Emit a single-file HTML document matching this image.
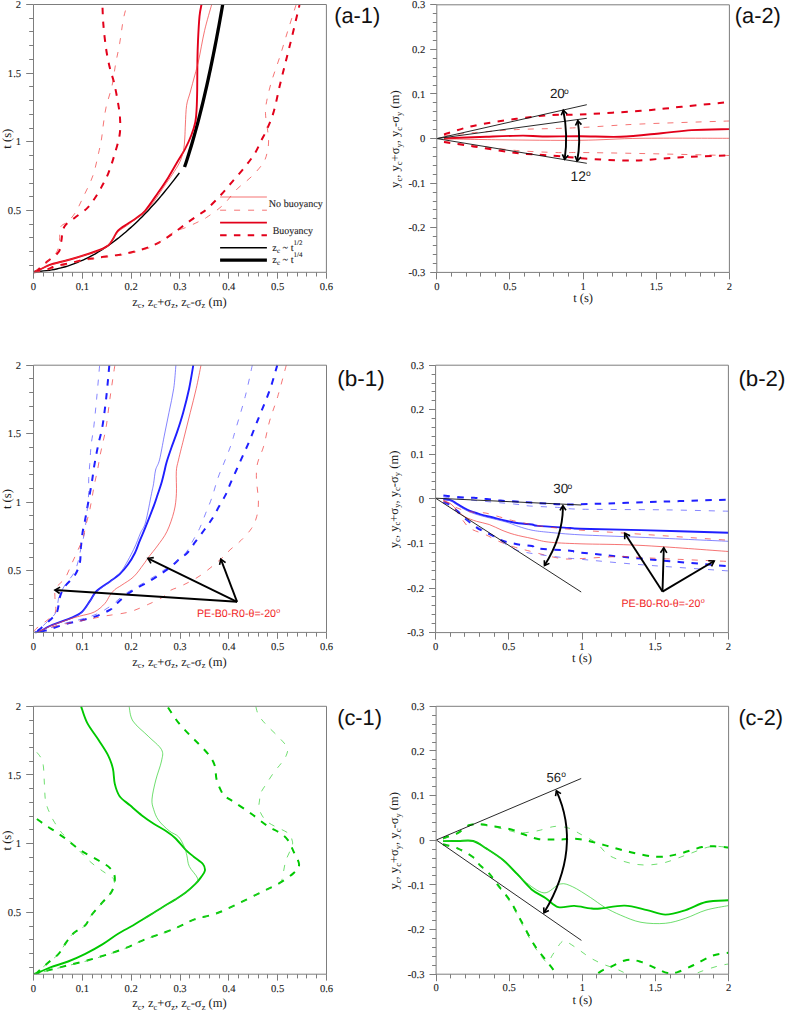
<!DOCTYPE html>
<html><head><meta charset="utf-8"><style>
html,body{margin:0;padding:0;background:#fff;}
svg{display:block;}
text{font-kerning:normal;text-rendering:geometricPrecision;}
.s{stroke:#1a1a1a;stroke-width:0.1px;}
</style></head><body>
<svg width="787" height="1012" viewBox="0 0 787 1012" fill="none" stroke-linecap="butt" stroke-linejoin="round">
<defs><clipPath id="clipc1"><rect x="33.5" y="706.3" width="293" height="267.9"/></clipPath><clipPath id="clipc2"><rect x="436.1" y="706.3" width="292.5" height="267.9"/></clipPath></defs>
<rect x="0" y="0" width="787" height="1012" fill="#fff"/>
<path d="M33.50,271.45 C34.77,271.41 38.91,271.32 41.13,271.19 C43.34,271.05 44.99,270.85 46.78,270.64 C48.57,270.42 50.23,270.17 51.87,269.89 C53.51,269.61 55.07,269.31 56.62,268.98 C58.16,268.65 59.66,268.29 61.14,267.91 C62.61,267.54 64.06,267.14 65.48,266.71 C66.90,266.29 68.30,265.85 69.67,265.39 C71.05,264.93 72.41,264.44 73.75,263.94 C75.10,263.44 76.42,262.92 77.73,262.39 C79.04,261.85 80.34,261.29 81.62,260.72 C82.90,260.15 84.17,259.56 85.43,258.95 C86.69,258.35 87.94,257.72 89.18,257.08 C90.41,256.45 91.64,255.79 92.86,255.12 C94.08,254.45 95.28,253.76 96.48,253.06 C97.68,252.36 98.87,251.65 100.06,250.92 C101.24,250.19 102.42,249.44 103.59,248.68 C104.75,247.92 105.91,247.15 107.07,246.36 C108.22,245.58 109.37,244.78 110.51,243.96 C111.65,243.15 112.79,242.32 113.91,241.48 C115.04,240.64 116.17,239.78 117.28,238.91 C118.40,238.04 119.51,237.16 120.62,236.27 C121.72,235.38 122.82,234.47 123.92,233.55 C125.02,232.63 126.11,231.70 127.19,230.76 C128.28,229.81 129.36,228.86 130.44,227.89 C131.52,226.92 132.59,225.94 133.66,224.95 C134.73,223.96 135.79,222.95 136.85,221.94 C137.91,220.92 138.97,219.89 140.02,218.86 C141.07,217.82 142.12,216.77 143.16,215.70 C144.21,214.64 145.25,213.57 146.28,212.48 C147.32,211.40 148.35,210.30 149.38,209.20 C150.42,208.09 151.44,206.97 152.46,205.84 C153.49,204.71 154.51,203.57 155.53,202.42 C156.54,201.27 157.56,200.11 158.57,198.94 C159.58,197.77 160.58,196.59 161.59,195.39 C162.59,194.20 163.60,193.00 164.59,191.78 C165.59,190.57 166.59,189.34 167.58,188.11 C168.58,186.87 169.57,185.63 170.55,184.37 C171.54,183.12 172.53,181.85 173.51,180.58 C174.49,179.30 175.47,178.02 176.45,176.72 C177.43,175.43 178.89,173.46 179.37,172.80" stroke="#000" stroke-width="1.4"/>
<path d="M184.53,167.10 C184.83,166.19 185.75,163.48 186.34,161.68 C186.93,159.87 187.51,158.06 188.08,156.26 C188.66,154.45 189.22,152.64 189.77,150.84 C190.33,149.03 190.87,147.22 191.41,145.42 C191.94,143.61 192.47,141.80 192.99,140.00 C193.52,138.19 194.03,136.38 194.53,134.58 C195.04,132.77 195.54,130.96 196.03,129.16 C196.52,127.35 197.01,125.54 197.49,123.74 C197.97,121.93 198.44,120.12 198.91,118.32 C199.37,116.51 199.84,114.70 200.29,112.90 C200.75,111.09 201.20,109.28 201.64,107.48 C202.09,105.67 202.52,103.86 202.96,102.06 C203.39,100.25 203.82,98.44 204.25,96.64 C204.67,94.83 205.09,93.02 205.51,91.22 C205.92,89.41 206.33,87.60 206.74,85.80 C207.15,83.99 207.55,82.18 207.95,80.38 C208.34,78.57 208.74,76.76 209.13,74.96 C209.52,73.15 209.90,71.35 210.29,69.54 C210.67,67.73 211.05,65.93 211.42,64.12 C211.80,62.31 212.17,60.51 212.54,58.70 C212.91,56.89 213.27,55.09 213.63,53.28 C213.99,51.47 214.35,49.67 214.71,47.86 C215.06,46.05 215.41,44.25 215.76,42.44 C216.11,40.63 216.46,38.83 216.80,37.02 C217.15,35.21 217.49,33.41 217.82,31.60 C218.16,29.79 218.49,27.99 218.83,26.18 C219.16,24.37 219.49,22.57 219.82,20.76 C220.14,18.95 220.47,17.15 220.79,15.34 C221.11,13.53 221.43,11.73 221.75,9.92 C222.06,8.11 222.53,5.40 222.69,4.50" stroke="#000" stroke-width="3.3"/>
<path d="M33.80,272.30 C35.17,271.67 39.13,269.82 42.00,268.50 C44.87,267.18 46.33,265.90 51.00,264.40 C55.67,262.90 62.38,261.73 70.00,259.50 C77.62,257.27 90.35,253.35 96.70,251.00 C103.05,248.65 105.38,247.40 108.10,245.40 C110.82,243.40 111.35,241.45 113.00,239.00 C114.65,236.55 115.55,233.23 118.00,230.70 C120.45,228.17 124.68,225.88 127.70,223.80 C130.72,221.72 133.20,220.37 136.10,218.20 C139.00,216.03 141.45,215.03 145.10,210.80 C148.75,206.57 154.13,198.37 158.00,192.80 C161.87,187.23 165.08,182.53 168.30,177.40 C171.52,172.27 174.52,166.72 177.30,162.00 C180.08,157.28 182.65,153.60 185.00,149.10 C187.35,144.60 189.68,139.50 191.40,135.00 C193.12,130.50 194.43,126.38 195.30,122.10 C196.17,117.82 196.28,114.65 196.60,109.30 C196.92,103.95 197.07,98.05 197.20,90.00 C197.33,81.95 197.27,69.22 197.40,61.00 C197.53,52.78 197.65,48.15 198.00,40.70 C198.35,33.25 198.92,22.33 199.50,16.30 C200.08,10.27 201.17,6.47 201.50,4.50" stroke="#e2001a" stroke-width="1.9"/>
<path d="M33.80,272.30 C36.67,271.08 40.52,268.47 51.00,265.00 C61.48,261.53 87.18,254.77 96.70,251.50 C106.22,248.23 104.55,248.65 108.10,245.40 C111.65,242.15 114.73,235.40 118.00,232.00 C121.27,228.60 123.18,228.42 127.70,225.00 C132.22,221.58 140.67,215.50 145.10,211.50 C149.53,207.50 150.98,205.42 154.30,201.00 C157.62,196.58 162.03,189.37 165.00,185.00 C167.97,180.63 169.63,178.63 172.10,174.80 C174.57,170.97 177.88,166.13 179.80,162.00 C181.72,157.87 182.77,154.00 183.60,150.00 C184.43,146.00 184.50,142.33 184.80,138.00 C185.10,133.67 185.10,129.43 185.40,124.00 C185.70,118.57 185.83,110.57 186.60,105.40 C187.37,100.23 188.85,97.23 190.00,93.00 C191.15,88.77 192.08,85.33 193.50,80.00 C194.92,74.67 196.65,69.25 198.50,61.00 C200.35,52.75 202.40,39.92 204.60,30.50 C206.80,21.08 210.52,8.83 211.70,4.50" stroke="#f03838" stroke-width="0.7"/>
<path d="M35.00,271.80 C35.43,271.50 35.57,271.72 37.60,270.00 C39.63,268.28 43.70,264.50 47.20,261.50 C50.70,258.50 56.23,255.50 58.60,252.00 C60.97,248.50 60.77,243.68 61.40,240.50 C62.03,237.32 61.75,235.43 62.40,232.90 C63.05,230.37 63.23,227.83 65.30,225.30 C67.37,222.77 71.15,220.57 74.80,217.70 C78.45,214.83 83.70,211.60 87.20,208.10 C90.70,204.60 93.27,200.50 95.80,196.70 C98.33,192.90 100.35,189.12 102.40,185.30 C104.45,181.48 106.18,178.57 108.10,173.80 C110.02,169.03 111.98,163.17 113.90,156.70 C115.82,150.23 118.58,141.45 119.60,135.00 C120.62,128.55 120.32,123.67 120.00,118.00 C119.68,112.33 118.72,107.00 117.70,101.00 C116.68,95.00 115.18,87.40 113.90,82.00 C112.62,76.60 111.28,74.02 110.00,68.60 C108.72,63.18 107.30,56.80 106.20,49.50 C105.10,42.20 104.03,32.30 103.40,24.80 C102.77,17.30 102.57,7.88 102.40,4.50" stroke="#e2001a" stroke-width="2.0" stroke-dasharray="6.5 7.3"/>
<path d="M34.50,272.00 C34.70,271.83 33.58,272.75 35.70,271.00 C37.82,269.25 43.70,264.67 47.20,261.50 C50.70,258.33 54.65,255.50 56.70,252.00 C58.75,248.50 58.87,244.63 59.50,240.50 C60.13,236.37 59.07,230.37 60.50,227.20 C61.93,224.03 65.57,224.03 68.10,221.50 C70.63,218.97 73.15,216.13 75.70,212.00 C78.25,207.87 80.53,202.75 83.40,196.70 C86.27,190.65 90.37,183.00 92.90,175.70 C95.43,168.40 97.17,159.02 98.60,152.90 C100.03,146.78 100.70,143.82 101.50,139.00 C102.30,134.18 102.62,129.38 103.40,124.00 C104.18,118.62 104.77,113.07 106.20,106.70 C107.63,100.33 110.40,93.10 112.00,85.80 C113.60,78.50 114.53,69.90 115.80,62.90 C117.07,55.90 118.33,51.12 119.60,43.80 C120.87,36.48 122.13,25.55 123.40,19.00 C124.67,12.45 126.57,6.92 127.20,4.50" stroke="#f03838" stroke-width="0.7" stroke-dasharray="6 8"/>
<path d="M34.00,272.20 C34.60,272.13 35.30,272.28 37.60,271.80 C39.90,271.32 44.83,270.25 47.80,269.30 C50.77,268.35 51.58,267.17 55.40,266.10 C59.22,265.03 66.03,263.97 70.70,262.90 C75.37,261.83 79.38,260.52 83.40,259.70 C87.42,258.88 90.20,258.63 94.80,258.00 C99.40,257.37 105.98,256.60 111.00,255.90 C116.02,255.20 120.25,254.73 124.90,253.80 C129.55,252.87 134.47,251.58 138.90,250.30 C143.33,249.02 147.77,247.62 151.50,246.10 C155.23,244.58 157.57,243.42 161.30,241.20 C165.03,238.98 169.48,235.93 173.90,232.80 C178.32,229.67 183.45,225.53 187.80,222.40 C192.15,219.27 196.87,216.18 200.00,214.00 C203.13,211.82 203.13,212.47 206.60,209.30 C210.07,206.13 216.40,199.75 220.80,195.00 C225.20,190.25 228.93,185.53 233.00,180.80 C237.07,176.07 241.47,171.33 245.20,166.60 C248.93,161.87 252.68,156.83 255.40,152.40 C258.12,147.97 259.63,143.72 261.50,140.00 C263.37,136.28 264.57,134.80 266.60,130.10 C268.63,125.40 271.50,119.25 273.70,111.80 C275.90,104.35 277.77,93.87 279.80,85.40 C281.83,76.93 283.87,69.13 285.90,61.00 C287.93,52.87 289.73,45.93 292.00,36.60 C294.27,27.27 298.25,10.27 299.50,5.00" stroke="#e2001a" stroke-width="2.0" stroke-dasharray="6.5 7.3"/>
<path d="M34.00,272.60 C36.30,272.13 41.68,271.32 47.80,269.80 C53.92,268.28 62.87,265.35 70.70,263.50 C78.53,261.65 85.77,260.22 94.80,258.70 C103.83,257.18 115.45,256.35 124.90,254.40 C134.35,252.45 144.82,249.73 151.50,247.00 C158.18,244.27 160.92,240.67 165.00,238.00 C169.08,235.33 172.43,232.78 176.00,231.00 C179.57,229.22 182.40,228.97 186.40,227.30 C190.40,225.63 196.63,222.65 200.00,221.00 C203.37,219.35 202.78,220.03 206.60,217.40 C210.42,214.77 217.82,209.93 222.90,205.20 C227.98,200.47 232.37,193.73 237.10,189.00 C241.83,184.27 246.90,181.22 251.30,176.80 C255.70,172.38 260.78,166.92 263.50,162.50 C266.22,158.08 266.75,154.05 267.60,150.30 C268.45,146.55 268.60,143.37 268.60,140.00 C268.60,136.63 268.12,134.47 267.60,130.10 C267.08,125.73 265.67,118.55 265.50,113.80 C265.33,109.05 265.58,107.02 266.60,101.60 C267.62,96.18 269.40,88.75 271.60,81.30 C273.80,73.85 277.08,65.37 279.80,56.90 C282.52,48.43 285.20,39.13 287.90,30.50 C290.60,21.87 294.65,9.33 296.00,5.10" stroke="#f03838" stroke-width="0.7" stroke-dasharray="6 8"/>
<path d="M220.10,197.00 L266.90,197.00" stroke="#f03838" stroke-width="0.7"/>
<path d="M220.10,210.20 L266.90,210.20" stroke="#f03838" stroke-width="0.7" stroke-dasharray="6 8"/>
<path d="M220.10,222.60 L266.90,222.60" stroke="#e2001a" stroke-width="1.9"/>
<path d="M220.10,235.30 L266.90,235.30" stroke="#e2001a" stroke-width="2.0" stroke-dasharray="6.5 7.3"/>
<path d="M220.10,247.70 L266.90,247.70" stroke="#000" stroke-width="1.4"/>
<path d="M220.10,260.10 L266.90,260.10" stroke="#000" stroke-width="3.3"/>
<text class="s" x="268.80" y="207.30" font-family="Liberation Serif" font-size="10.3" text-anchor="start" fill="#1a1a1a" textLength="54" lengthAdjust="spacingAndGlyphs">No buoyancy</text>
<text class="s" x="272.70" y="233.60" font-family="Liberation Serif" font-size="10.3" text-anchor="start" fill="#1a1a1a" textLength="40.2" lengthAdjust="spacingAndGlyphs">Buoyancy</text>
<text class="s" x="272.30" y="251.00" font-family="Liberation Serif" font-size="10.3" text-anchor="start" fill="#1a1a1a" >z<tspan font-size="7" dy="2">c</tspan><tspan dy="-2"> ~ t</tspan><tspan font-size="7" dy="-6.5">1/2</tspan></text>
<text class="s" x="272.30" y="263.00" font-family="Liberation Serif" font-size="10.3" text-anchor="start" fill="#1a1a1a" >z<tspan font-size="7" dy="2">c</tspan><tspan dy="-2"> ~ t</tspan><tspan font-size="7" dy="-6.5">1/4</tspan></text>
<path d="M444.00,134.50 C448.87,133.07 461.13,128.52 473.20,125.90 C485.27,123.28 503.43,120.60 516.40,118.80 C529.37,117.00 540.40,115.82 551.00,115.10 C561.60,114.38 565.00,115.22 580.00,114.50 C595.00,113.78 624.07,112.08 641.00,110.80 C657.93,109.52 666.93,108.27 681.60,106.80 C696.27,105.33 721.10,102.80 729.00,102.00" stroke="#e2001a" stroke-width="2.0" stroke-dasharray="6.5 7.3"/>
<path d="M444.00,135.80 C448.33,135.33 457.93,134.03 470.00,133.00 C482.07,131.97 501.65,130.37 516.40,129.60 C531.15,128.83 547.00,128.78 558.50,128.40 C570.00,128.02 571.65,128.03 585.40,127.30 C599.15,126.57 617.07,125.05 641.00,124.00 C664.93,122.95 714.33,121.50 729.00,121.00" stroke="#f03838" stroke-width="0.7" stroke-dasharray="6 8"/>
<path d="M444.00,138.50 C446.67,138.38 452.97,138.10 460.00,137.80 C467.03,137.50 475.72,137.07 486.20,136.70 C496.68,136.33 513.55,135.63 522.90,135.60 C532.25,135.57 532.78,136.40 542.30,136.50 C551.82,136.60 566.93,136.15 580.00,136.20 C593.07,136.25 607.15,137.30 620.70,136.80 C634.25,136.30 649.45,134.32 661.30,133.20 C673.15,132.08 680.45,130.78 691.80,130.10 C703.15,129.42 723.13,129.27 729.40,129.10" stroke="#e2001a" stroke-width="1.9"/>
<path d="M444.00,138.80 C453.33,138.97 477.33,139.55 500.00,139.80 C522.67,140.05 556.50,140.55 580.00,140.30 C603.50,140.05 616.10,138.63 641.00,138.30 C665.90,137.97 714.67,138.30 729.40,138.30" stroke="#f03838" stroke-width="0.7"/>
<path d="M444.00,141.50 C448.33,142.08 457.93,143.50 470.00,145.00 C482.07,146.50 501.65,149.23 516.40,150.50 C531.15,151.77 547.90,152.27 558.50,152.60 C569.10,152.93 566.25,152.35 580.00,152.50 C593.75,152.65 616.17,153.00 641.00,153.50 C665.83,154.00 714.33,155.17 729.00,155.50" stroke="#f03838" stroke-width="0.7" stroke-dasharray="6 8"/>
<path d="M444.00,142.00 C448.87,142.73 461.13,144.58 473.20,146.40 C485.27,148.22 502.43,151.30 516.40,152.90 C530.37,154.50 545.60,155.07 557.00,156.00 C568.40,156.93 572.50,157.73 584.80,158.50 C597.10,159.27 614.67,160.82 630.80,160.60 C646.93,160.38 665.23,158.08 681.60,157.20 C697.97,156.32 721.10,155.62 729.00,155.30" stroke="#e2001a" stroke-width="2.0" stroke-dasharray="6.5 7.3"/>
<path d="M436.80,138.60 L586.80,104.70" stroke="#111" stroke-width="0.9"/>
<path d="M436.80,138.60 L586.80,118.30" stroke="#111" stroke-width="0.9"/>
<path d="M436.80,138.60 L586.80,163.30" stroke="#111" stroke-width="0.9"/>
<path d="M563.30,110.20 Q568.20,134.50 564.70,159.20" stroke="#000" stroke-width="1.9"/>
<path d="M567.13,114.02 L563.30,110.20 L561.25,115.20" stroke="#000" stroke-width="1.615" stroke-linejoin="miter"/>
<path d="M562.36,154.32 L564.70,159.20 L568.30,155.17" stroke="#000" stroke-width="1.615" stroke-linejoin="miter"/>
<path d="M577.80,120.60 Q580.95,142.20 577.10,161.00" stroke="#000" stroke-width="1.9"/>
<path d="M581.42,124.62 L577.80,120.60 L575.48,125.49" stroke="#000" stroke-width="1.615" stroke-linejoin="miter"/>
<path d="M575.06,155.99 L577.10,161.00 L580.94,157.19" stroke="#000" stroke-width="1.615" stroke-linejoin="miter"/>
<text x="549.90" y="98.40" font-family="Liberation Sans" font-size="13.4" text-anchor="start" fill="#1a1a1a" >20</text>
<text x="564.00" y="94.10" font-family="Liberation Sans" font-size="8.5" text-anchor="start" fill="#1a1a1a" >o</text>
<text x="570.60" y="180.80" font-family="Liberation Sans" font-size="13.9" text-anchor="start" fill="#1a1a1a" >12</text>
<text x="585.90" y="175.90" font-family="Liberation Sans" font-size="8.5" text-anchor="start" fill="#1a1a1a" >o</text>
<path d="M193.30,365.20 C192.60,369.12 190.78,380.83 189.10,388.70 C187.42,396.57 185.17,405.28 183.20,412.40 C181.23,419.52 179.28,425.47 177.30,431.40 C175.32,437.33 173.08,442.87 171.30,448.00 C169.52,453.13 167.73,458.37 166.60,462.20 C165.47,466.03 165.38,467.43 164.50,471.00 C163.62,474.57 162.47,479.60 161.30,483.60 C160.13,487.60 158.73,491.33 157.50,495.00 C156.27,498.67 155.88,500.28 153.90,505.60 C151.92,510.92 147.98,520.98 145.60,526.90 C143.22,532.82 141.38,536.75 139.60,541.10 C137.82,545.45 136.87,549.05 134.90,553.00 C132.93,556.95 130.37,561.25 127.80,564.80 C125.23,568.35 122.47,571.53 119.50,574.30 C116.53,577.07 113.85,578.58 110.00,581.40 C106.15,584.22 99.70,588.00 96.40,591.20 C93.10,594.40 92.62,597.13 90.20,600.60 C87.78,604.07 85.18,609.07 81.90,612.00 C78.62,614.93 75.68,615.95 70.50,618.20 C65.32,620.45 55.82,623.33 50.80,625.50 C45.78,627.67 43.03,630.05 40.40,631.20 C37.77,632.35 35.90,632.20 35.00,632.40" stroke="#1f1fff" stroke-width="1.9"/>
<path d="M175.90,365.20 C175.53,369.12 174.85,380.83 173.70,388.70 C172.55,396.57 170.58,404.50 169.00,412.40 C167.42,420.30 165.78,428.18 164.20,436.10 C162.62,444.02 160.93,454.25 159.50,459.90 C158.07,465.55 156.58,466.05 155.60,470.00 C154.62,473.95 154.28,479.65 153.60,483.60 C152.92,487.55 152.83,487.28 151.50,493.70 C150.17,500.12 147.43,515.55 145.60,522.10 C143.77,528.65 142.48,528.45 140.50,533.00 C138.52,537.55 136.80,543.12 133.70,549.40 C130.60,555.68 125.02,566.10 121.90,570.70 C118.78,575.30 117.00,575.12 115.00,577.00 C113.00,578.88 113.00,579.53 109.90,582.00 C106.80,584.47 99.68,588.63 96.40,591.80 C93.12,594.97 92.62,597.57 90.20,601.00 C87.78,604.43 85.18,609.47 81.90,612.40 C78.62,615.33 75.68,616.35 70.50,618.60 C65.32,620.85 55.82,623.77 50.80,625.90 C45.78,628.03 43.03,630.32 40.40,631.40 C37.77,632.48 35.90,632.23 35.00,632.40" stroke="#5050ff" stroke-width="0.7"/>
<path d="M201.00,365.20 C200.20,369.12 197.98,380.83 196.20,388.70 C194.42,396.57 192.27,404.50 190.30,412.40 C188.33,420.30 186.37,428.18 184.40,436.10 C182.43,444.02 179.85,453.97 178.50,459.90 C177.15,465.83 176.65,466.07 176.30,471.70 C175.95,477.33 176.78,487.07 176.40,493.70 C176.02,500.33 175.58,505.18 174.00,511.50 C172.42,517.82 169.67,525.87 166.90,531.60 C164.13,537.33 160.37,541.75 157.40,545.90 C154.43,550.05 151.47,553.35 149.10,556.50 C146.73,559.65 145.77,561.43 143.20,564.80 C140.63,568.17 137.25,573.33 133.70,576.70 C130.15,580.07 125.07,582.83 121.90,585.00 C118.73,587.17 116.70,587.97 114.70,589.70 C112.70,591.43 111.57,593.07 109.90,595.40 C108.23,597.73 107.30,600.93 104.70,603.70 C102.10,606.47 98.45,609.93 94.30,612.00 C90.15,614.07 83.95,614.90 79.80,616.10 C75.65,617.30 74.23,617.55 69.40,619.20 C64.57,620.85 55.98,623.83 50.80,626.00 C45.62,628.17 40.38,631.17 38.30,632.20" stroke="#f03838" stroke-width="0.7"/>
<path d="M277.30,365.10 C276.02,369.33 272.92,381.18 269.60,390.50 C266.28,399.82 260.80,412.50 257.40,421.00 C254.00,429.50 251.72,435.53 249.20,441.50 C246.68,447.47 244.47,451.97 242.30,456.80 C240.13,461.63 238.23,465.93 236.20,470.50 C234.17,475.07 231.87,480.13 230.10,484.20 C228.33,488.27 227.50,491.08 225.60,494.90 C223.70,498.72 221.00,503.03 218.70,507.10 C216.40,511.17 214.22,515.48 211.80,519.30 C209.38,523.12 206.98,526.18 204.20,530.00 C201.42,533.82 197.90,538.40 195.10,542.20 C192.30,546.00 189.92,550.07 187.40,552.80 C184.88,555.53 183.05,556.05 180.00,558.60 C176.95,561.15 173.77,564.60 169.10,568.10 C164.43,571.60 158.67,575.47 152.00,579.60 C145.33,583.73 135.45,588.45 129.10,592.90 C122.75,597.35 117.10,603.47 113.90,606.30 C110.70,609.13 112.82,608.27 109.90,609.90 C106.98,611.53 101.07,614.37 96.40,616.10 C91.73,617.83 86.92,619.00 81.90,620.30 C76.88,621.60 70.80,622.70 66.30,623.90 C61.80,625.10 58.35,626.38 54.90,627.50 C51.45,628.62 48.75,629.80 45.60,630.60 C42.45,631.40 37.60,632.02 36.00,632.30" stroke="#1f1fff" stroke-width="2.0" stroke-dasharray="6.5 7.3"/>
<path d="M252.30,365.10 C251.12,370.35 248.07,385.58 245.20,396.60 C242.33,407.62 237.48,423.08 235.10,431.20 C232.72,439.32 232.75,440.02 230.90,445.30 C229.05,450.58 226.17,457.43 224.00,462.90 C221.83,468.37 219.93,472.27 217.90,478.10 C215.87,483.93 213.83,492.05 211.80,497.90 C209.77,503.75 207.73,508.12 205.70,513.20 C203.67,518.28 201.88,523.57 199.60,528.40 C197.32,533.23 194.28,538.13 192.00,542.20 C189.72,546.27 188.18,549.83 185.90,552.80 C183.62,555.77 181.12,557.72 178.30,560.00 C175.48,562.28 172.88,563.83 169.00,566.50 C165.12,569.17 159.83,572.92 155.00,576.00 C150.17,579.08 145.00,582.00 140.00,585.00 C135.00,588.00 129.67,590.67 125.00,594.00 C120.33,597.33 116.50,601.75 112.00,605.00 C107.50,608.25 103.00,611.17 98.00,613.50 C93.00,615.83 87.33,617.42 82.00,619.00 C76.67,620.58 71.33,621.50 66.00,623.00 C60.67,624.50 55.00,626.50 50.00,628.00 C45.00,629.50 38.33,631.33 36.00,632.00" stroke="#5050ff" stroke-width="0.7" stroke-dasharray="6 8"/>
<path d="M286.30,365.10 C284.87,370.35 280.48,387.28 277.70,396.60 C274.92,405.92 271.93,412.75 269.60,421.00 C267.27,429.25 265.70,439.12 263.70,446.10 C261.70,453.08 258.82,457.57 257.60,462.90 C256.38,468.23 256.27,471.75 256.40,478.10 C256.53,484.45 258.33,494.65 258.40,501.00 C258.47,507.35 257.95,511.63 256.80,516.20 C255.65,520.77 254.17,524.33 251.50,528.40 C248.83,532.47 244.37,537.03 240.80,540.60 C237.23,544.17 233.40,546.75 230.10,549.80 C226.80,552.85 225.93,554.63 221.00,558.90 C216.07,563.17 206.97,570.97 200.50,575.40 C194.03,579.83 187.28,582.97 182.20,585.50 C177.12,588.03 173.13,588.73 170.00,590.60 C166.87,592.47 167.03,594.40 163.40,596.70 C159.77,599.00 153.92,601.85 148.20,604.40 C142.48,606.95 136.10,610.10 129.10,612.00 C122.10,613.90 113.18,614.53 106.20,615.80 C99.22,617.07 95.13,618.02 87.20,619.60 C79.27,621.18 65.63,623.73 58.60,625.30 C51.57,626.87 48.77,627.88 45.00,629.00 C41.23,630.12 37.50,631.50 36.00,632.00" stroke="#f03838" stroke-width="0.7" stroke-dasharray="6 8"/>
<path d="M109.30,365.50 C108.78,370.93 107.35,387.90 106.20,398.10 C105.05,408.30 103.58,419.55 102.40,426.70 C101.22,433.85 100.07,436.63 99.10,441.00 C98.13,445.37 97.43,448.62 96.60,452.90 C95.77,457.18 94.85,462.10 94.10,466.70 C93.35,471.30 92.83,475.88 92.10,480.50 C91.37,485.12 90.52,489.78 89.70,494.40 C88.88,499.02 88.03,503.58 87.20,508.20 C86.37,512.82 85.48,517.97 84.70,522.10 C83.92,526.23 83.15,528.57 82.50,533.00 C81.85,537.43 81.25,543.67 80.80,548.70 C80.35,553.73 80.83,558.70 79.80,563.20 C78.77,567.70 77.02,571.90 74.60,575.70 C72.18,579.50 67.72,582.55 65.30,586.00 C62.88,589.45 61.48,592.07 60.10,596.40 C58.72,600.73 58.73,608.02 57.00,612.00 C55.27,615.98 52.65,617.37 49.70,620.30 C46.75,623.23 41.72,627.62 39.30,629.60 C36.88,631.58 35.88,631.77 35.20,632.20" stroke="#1f1fff" stroke-width="2.0" stroke-dasharray="6.5 7.3"/>
<path d="M99.60,365.70 C99.12,371.10 97.67,387.93 96.70,398.10 C95.73,408.27 94.67,419.38 93.80,426.70 C92.93,434.02 92.02,438.13 91.50,442.00 C90.98,445.87 91.00,446.12 90.70,449.90 C90.40,453.68 90.03,459.92 89.70,464.70 C89.37,469.48 88.87,473.98 88.70,478.60 C88.53,483.22 88.87,487.95 88.70,492.40 C88.53,496.85 88.12,500.85 87.70,505.30 C87.28,509.75 86.73,514.48 86.20,519.10 C85.67,523.72 85.37,528.18 84.50,533.00 C83.63,537.82 82.08,543.17 81.00,548.00 C79.92,552.83 79.23,557.73 78.00,562.00 C76.77,566.27 75.77,569.77 73.60,573.60 C71.43,577.43 67.43,581.10 65.00,585.00 C62.57,588.90 60.50,592.50 59.00,597.00 C57.50,601.50 57.75,608.08 56.00,612.00 C54.25,615.92 51.42,617.50 48.50,620.50 C45.58,623.50 40.75,628.05 38.50,630.00 C36.25,631.95 35.58,631.83 35.00,632.20" stroke="#5050ff" stroke-width="0.7" stroke-dasharray="6 8"/>
<path d="M114.80,365.50 C114.00,370.93 111.43,387.90 110.00,398.10 C108.57,408.30 107.37,419.38 106.20,426.70 C105.03,434.02 104.03,437.15 103.00,442.00 C101.97,446.85 100.90,451.18 100.00,455.80 C99.10,460.42 98.50,465.08 97.60,469.70 C96.70,474.32 95.52,478.90 94.60,483.50 C93.68,488.10 92.92,492.85 92.10,497.30 C91.28,501.75 90.68,505.75 89.70,510.20 C88.72,514.65 87.37,519.22 86.20,524.00 C85.03,528.78 84.28,534.10 82.70,538.90 C81.12,543.70 78.57,548.58 76.70,552.80 C74.83,557.02 73.40,560.05 71.50,564.20 C69.60,568.35 67.90,573.72 65.30,577.70 C62.70,581.68 57.63,584.98 55.90,588.10 C54.17,591.22 54.98,593.98 54.90,596.40 C54.82,598.82 55.40,599.83 55.40,602.60 C55.40,605.37 56.72,609.72 54.90,613.00 C53.08,616.28 47.62,619.70 44.50,622.30 C41.38,624.90 37.95,626.98 36.20,628.60 C34.45,630.22 34.37,631.43 34.00,632.00" stroke="#f03838" stroke-width="0.7" stroke-dasharray="6 8"/>
<path d="M237.10,601.80 L147.90,558.30" stroke="#000" stroke-width="1.9"/>
<path d="M153.80,557.62 L147.90,558.30 L150.99,563.37" stroke="#000" stroke-width="1.615" stroke-linejoin="miter"/>
<path d="M237.10,601.80 L220.80,559.10" stroke="#000" stroke-width="1.9"/>
<path d="M225.57,562.63 L220.80,559.10 L219.59,564.91" stroke="#000" stroke-width="1.615" stroke-linejoin="miter"/>
<path d="M237.10,601.80 L54.90,590.00" stroke="#000" stroke-width="1.9"/>
<path d="M60.10,587.13 L54.90,590.00 L59.68,593.52" stroke="#000" stroke-width="1.615" stroke-linejoin="miter"/>
<text x="197.00" y="617.20" font-family="Liberation Sans" font-size="10.8" text-anchor="start" fill="#f01e1e" textLength="79" lengthAdjust="spacingAndGlyphs">PE-B0-R0-θ=-20</text>
<text x="276.30" y="613.00" font-family="Liberation Sans" font-size="7.2" text-anchor="start" fill="#f01e1e" >o</text>
<path d="M443.40,495.50 C446.17,495.78 454.90,496.82 460.00,497.20 C465.10,497.58 469.57,497.48 474.00,497.80 C478.43,498.12 482.17,498.63 486.60,499.10 C491.03,499.57 495.72,500.18 500.60,500.60 C505.48,501.02 510.82,501.27 515.90,501.60 C520.98,501.93 523.82,502.15 531.10,502.60 C538.38,503.05 551.45,504.02 559.60,504.30 C567.75,504.58 563.05,504.73 580.00,504.30 C596.95,503.87 636.63,502.48 661.30,501.70 C685.97,500.92 716.88,499.95 728.00,499.60" stroke="#1f1fff" stroke-width="2.0" stroke-dasharray="6.5 7.3"/>
<path d="M443.40,497.00 C447.83,497.50 458.13,498.82 470.00,500.00 C481.87,501.18 504.63,503.10 514.60,504.10 C524.57,505.10 522.30,505.43 529.80,506.00 C537.30,506.57 551.23,506.97 559.60,507.50 C567.97,508.03 563.05,508.82 580.00,509.20 C596.95,509.58 636.63,509.47 661.30,509.80 C685.97,510.13 716.88,510.97 728.00,511.20" stroke="#5050ff" stroke-width="0.7" stroke-dasharray="6 8"/>
<path d="M443.40,499.10 C444.68,499.30 448.77,499.47 451.10,500.30 C453.43,501.13 454.65,502.50 457.40,504.10 C460.15,505.70 463.78,508.20 467.60,509.90 C471.42,511.60 476.07,513.03 480.30,514.30 C484.53,515.57 488.77,516.43 493.00,517.50 C497.23,518.57 501.47,519.75 505.70,520.70 C509.93,521.65 514.02,522.57 518.40,523.20 C522.78,523.83 528.73,524.05 532.00,524.50 C535.27,524.95 531.60,525.32 538.00,525.90 C544.40,526.48 563.40,527.53 570.40,528.00 C577.40,528.47 568.23,528.35 580.00,528.70 C591.77,529.05 616.27,529.42 641.00,530.10 C665.73,530.78 713.83,532.35 728.40,532.80" stroke="#1f1fff" stroke-width="1.9"/>
<path d="M443.40,499.50 C444.68,499.75 448.77,500.08 451.10,501.00 C453.43,501.92 454.65,503.33 457.40,505.00 C460.15,506.67 463.78,509.25 467.60,511.00 C471.42,512.75 473.95,513.68 480.30,515.50 C486.65,517.32 499.35,520.08 505.70,521.90 C512.05,523.72 514.02,525.02 518.40,526.40 C522.78,527.78 526.93,529.22 532.00,530.20 C537.07,531.18 540.80,531.53 548.80,532.30 C556.80,533.07 564.63,533.97 580.00,534.80 C595.37,535.63 616.27,536.22 641.00,537.30 C665.73,538.38 713.83,540.63 728.40,541.30" stroke="#5050ff" stroke-width="0.7"/>
<path d="M443.40,500.30 C444.68,500.93 448.77,502.40 451.10,504.10 C453.43,505.80 455.08,508.38 457.40,510.50 C459.72,512.62 461.82,515.00 465.00,516.80 C468.18,518.60 472.47,520.02 476.50,521.30 C480.53,522.58 484.97,523.02 489.20,524.50 C493.43,525.98 497.67,528.52 501.90,530.20 C506.13,531.88 509.58,533.22 514.60,534.60 C519.62,535.98 526.30,537.25 532.00,538.50 C537.70,539.75 540.80,541.22 548.80,542.10 C556.80,542.98 564.63,543.25 580.00,543.80 C595.37,544.35 616.27,544.12 641.00,545.40 C665.73,546.68 713.83,550.48 728.40,551.50" stroke="#f03838" stroke-width="0.7"/>
<path d="M443.40,500.30 C445.73,501.58 452.95,506.08 457.40,508.00 C461.85,509.92 465.43,510.97 470.10,511.80 C474.77,512.63 480.53,512.17 485.40,513.00 C490.27,513.83 494.65,515.52 499.30,516.80 C503.95,518.08 506.52,519.17 513.30,520.70 C520.08,522.23 528.88,524.43 540.00,526.00 C551.12,527.57 563.17,528.73 580.00,530.10 C596.83,531.47 616.33,532.52 641.00,534.20 C665.67,535.88 713.50,539.20 728.00,540.20" stroke="#f03838" stroke-width="0.7" stroke-dasharray="6 8"/>
<path d="M443.40,502.20 C444.25,502.52 446.17,502.62 448.50,504.10 C450.83,505.58 454.43,508.55 457.40,511.10 C460.37,513.65 462.92,516.53 466.30,519.40 C469.68,522.27 473.67,525.77 477.70,528.30 C481.73,530.83 486.25,532.48 490.50,534.60 C494.75,536.72 498.77,539.40 503.20,541.00 C507.63,542.60 512.30,543.35 517.10,544.20 C521.90,545.05 528.52,545.37 532.00,546.10 C535.48,546.83 531.60,547.83 538.00,548.60 C544.40,549.37 563.40,550.05 570.40,550.70 C577.40,551.35 568.23,551.18 580.00,552.50 C591.77,553.82 616.33,556.32 641.00,558.60 C665.67,560.88 713.50,564.93 728.00,566.20" stroke="#1f1fff" stroke-width="2.0" stroke-dasharray="6.5 7.3"/>
<path d="M443.40,501.50 C444.88,502.15 449.33,502.63 452.30,505.40 C455.27,508.17 458.23,514.28 461.20,518.10 C464.17,521.92 466.07,525.55 470.10,528.30 C474.13,531.05 480.73,532.48 485.40,534.60 C490.07,536.72 493.45,538.98 498.10,541.00 C502.75,543.02 508.43,545.12 513.30,546.70 C518.17,548.28 519.58,548.57 527.30,550.50 C535.02,552.43 550.82,556.95 559.60,558.30 C568.38,559.65 569.82,558.88 580.00,558.60 C590.18,558.32 607.15,556.60 620.70,556.60 C634.25,556.60 643.42,557.80 661.30,558.60 C679.18,559.40 716.88,560.93 728.00,561.40" stroke="#f03838" stroke-width="0.7" stroke-dasharray="6 8"/>
<path d="M443.40,502.50 C444.50,503.08 445.57,502.75 450.00,506.00 C454.43,509.25 463.33,517.33 470.00,522.00 C476.67,526.67 482.78,529.57 490.00,534.00 C497.22,538.43 506.67,545.42 513.30,548.60 C519.93,551.78 522.08,551.67 529.80,553.10 C537.52,554.53 551.23,556.18 559.60,557.20 C567.97,558.22 566.43,557.95 580.00,559.20 C593.57,560.45 616.33,562.75 641.00,564.70 C665.67,566.65 713.50,569.87 728.00,570.90" stroke="#5050ff" stroke-width="0.7" stroke-dasharray="6 8"/>
<path d="M435.60,498.20 L581.20,505.00" stroke="#111" stroke-width="0.9"/>
<path d="M435.60,498.20 L581.20,592.00" stroke="#111" stroke-width="0.9"/>
<path d="M562.90,505.80 Q563.30,535.50 544.50,565.60" stroke="#000" stroke-width="1.9"/>
<path d="M565.96,510.26 L562.90,505.80 L559.96,510.34" stroke="#000" stroke-width="1.615" stroke-linejoin="miter"/>
<path d="M544.34,560.19 L544.50,565.60 L549.43,563.37" stroke="#000" stroke-width="1.615" stroke-linejoin="miter"/>
<text x="553.20" y="492.50" font-family="Liberation Sans" font-size="13.4" text-anchor="start" fill="#1a1a1a" >30</text>
<text x="567.40" y="488.50" font-family="Liberation Sans" font-size="8.5" text-anchor="start" fill="#1a1a1a" >o</text>
<path d="M662.50,591.60 L624.70,533.20" stroke="#000" stroke-width="1.9"/>
<path d="M630.10,535.66 L624.70,533.20 L624.73,539.14" stroke="#000" stroke-width="1.615" stroke-linejoin="miter"/>
<path d="M662.50,591.60 L663.80,547.80" stroke="#000" stroke-width="1.9"/>
<path d="M666.85,552.89 L663.80,547.80 L660.45,552.70" stroke="#000" stroke-width="1.615" stroke-linejoin="miter"/>
<path d="M662.50,591.60 L714.20,561.00" stroke="#000" stroke-width="1.9"/>
<path d="M711.53,566.30 L714.20,561.00 L708.27,560.79" stroke="#000" stroke-width="1.615" stroke-linejoin="miter"/>
<text x="621.40" y="606.80" font-family="Liberation Sans" font-size="10.8" text-anchor="start" fill="#f01e1e" textLength="79" lengthAdjust="spacingAndGlyphs">PE-B0-R0-θ=-20</text>
<text x="700.70" y="602.60" font-family="Liberation Sans" font-size="7.2" text-anchor="start" fill="#f01e1e" >o</text>
<g clip-path="url(#clipc1)">
<path d="M81.10,706.30 C82.12,709.07 84.28,717.28 87.20,722.90 C90.12,728.52 95.12,734.60 98.60,740.00 C102.08,745.40 105.72,750.53 108.10,755.30 C110.48,760.07 111.78,763.83 112.90,768.60 C114.02,773.37 113.68,779.30 114.80,783.90 C115.92,788.50 117.07,792.63 119.60,796.20 C122.13,799.77 126.28,802.10 130.00,805.30 C133.72,808.50 137.95,812.33 141.90,815.40 C145.85,818.47 149.75,821.13 153.70,823.70 C157.65,826.27 162.03,828.42 165.60,830.80 C169.17,833.18 171.75,834.83 175.10,838.00 C178.45,841.17 182.55,846.65 185.70,849.80 C188.85,852.95 191.13,854.53 194.00,856.90 C196.87,859.27 201.08,861.72 202.90,864.00 C204.72,866.28 205.20,868.42 204.90,870.60 C204.60,872.78 202.72,874.83 201.10,877.10 C199.48,879.37 197.77,881.63 195.20,884.20 C192.63,886.77 189.05,889.93 185.70,892.50 C182.35,895.07 178.85,897.23 175.10,899.60 C171.35,901.97 166.77,904.52 163.20,906.70 C159.63,908.88 157.07,910.62 153.70,912.70 C150.33,914.78 146.47,917.07 143.00,919.20 C139.53,921.33 137.12,923.03 132.90,925.50 C128.68,927.97 122.78,930.85 117.70,934.00 C112.62,937.15 107.80,941.08 102.40,944.40 C97.00,947.72 91.02,951.05 85.30,953.90 C79.58,956.75 73.82,959.28 68.10,961.50 C62.38,963.72 56.40,965.13 51.00,967.20 C45.60,969.27 38.25,972.78 35.70,973.90" stroke="#00c800" stroke-width="1.9"/>
<path d="M129.10,706.30 C129.73,708.75 129.72,716.02 132.90,721.00 C136.08,725.98 143.43,731.43 148.20,736.20 C152.97,740.97 159.28,745.47 161.50,749.60 C163.72,753.73 162.45,755.93 161.50,761.00 C160.55,766.07 157.38,773.65 155.80,780.00 C154.22,786.35 152.35,794.18 152.00,799.10 C151.65,804.02 152.62,805.98 153.70,809.50 C154.78,813.02 155.93,816.65 158.50,820.20 C161.07,823.75 165.75,828.03 169.10,830.80 C172.45,833.57 176.03,834.03 178.60,836.80 C181.17,839.57 183.12,844.25 184.50,847.40 C185.88,850.55 186.10,852.53 186.90,855.70 C187.70,858.87 187.52,862.63 189.30,866.40 C191.08,870.17 196.62,875.27 197.60,878.30 C198.58,881.33 197.18,882.18 195.20,884.60 C193.22,887.02 189.05,890.25 185.70,892.80 C182.35,895.35 178.85,897.53 175.10,899.90 C171.35,902.27 166.77,904.82 163.20,907.00 C159.63,909.18 157.07,910.92 153.70,913.00 C150.33,915.08 144.78,918.42 143.00,919.50" stroke="#30d030" stroke-width="0.7"/>
<path d="M36.90,819.00 C37.82,819.67 40.50,821.67 42.40,823.00 C44.30,824.33 46.42,825.77 48.30,827.00 C50.18,828.23 51.73,829.08 53.70,830.40 C55.67,831.72 58.20,833.58 60.10,834.90 C62.00,836.22 61.53,835.62 65.10,838.30 C68.67,840.98 75.92,847.30 81.50,851.00 C87.08,854.70 93.85,857.65 98.60,860.50 C103.35,863.35 107.30,865.25 110.00,868.10 C112.70,870.95 114.47,873.78 114.80,877.60 C115.13,881.42 114.07,886.87 112.00,891.00 C109.93,895.13 105.90,898.27 102.40,902.40 C98.90,906.53 93.85,911.98 91.00,915.80 C88.15,919.62 88.17,922.45 85.30,925.30 C82.43,928.15 76.98,930.05 73.80,932.90 C70.62,935.75 68.73,938.90 66.20,942.40 C63.67,945.90 61.77,950.40 58.60,953.90 C55.43,957.40 51.02,960.07 47.20,963.40 C43.38,966.73 37.62,972.15 35.70,973.90" stroke="#00c800" stroke-width="2.0" stroke-dasharray="6.5 7.3"/>
<path d="M36.90,752.40 C37.57,753.30 39.83,755.58 40.90,757.80 C41.97,760.02 42.73,761.67 43.30,765.70 C43.87,769.73 43.97,776.40 44.30,782.00 C44.63,787.60 44.80,795.10 45.30,799.30 C45.80,803.50 46.55,804.90 47.30,807.20 C48.05,809.50 48.73,810.80 49.80,813.10 C50.87,815.40 51.90,817.95 53.70,821.00 C55.50,824.05 58.78,828.93 60.60,831.40 C62.42,833.87 63.03,834.13 64.60,835.80 C66.17,837.47 67.50,838.87 70.00,841.40 C72.50,843.93 76.10,847.50 79.60,851.00 C83.10,854.50 87.20,859.07 91.00,862.40 C94.80,865.73 98.58,868.13 102.40,871.00 C106.22,873.87 112.38,876.18 113.90,879.60 C115.42,883.02 113.48,887.60 111.50,891.50 C109.52,895.40 105.48,898.88 102.00,903.00 C98.52,907.12 93.45,912.42 90.60,916.20 C87.75,919.98 87.77,922.85 84.90,925.70 C82.03,928.55 76.58,930.45 73.40,933.30 C70.22,936.15 68.33,939.30 65.80,942.80 C63.27,946.30 61.37,950.80 58.20,954.30 C55.03,957.80 50.62,960.52 46.80,963.80 C42.98,967.08 37.22,972.30 35.30,974.00" stroke="#30d030" stroke-width="0.7" stroke-dasharray="6 8"/>
<path d="M168.00,707.50 C168.33,708.00 168.23,707.93 170.00,710.50 C171.77,713.07 175.27,718.77 178.60,722.90 C181.93,727.03 186.50,731.65 190.00,735.30 C193.50,738.95 196.42,741.47 199.60,744.80 C202.78,748.13 206.57,751.80 209.10,755.30 C211.63,758.80 213.53,761.68 214.80,765.80 C216.07,769.92 215.43,775.40 216.70,780.00 C217.97,784.60 220.82,790.53 222.40,793.40 C223.98,796.27 224.08,795.65 226.20,797.20 C228.32,798.75 230.92,799.93 235.10,802.70 C239.28,805.47 245.88,809.92 251.30,813.80 C256.72,817.68 262.82,822.80 267.60,826.00 C272.38,829.20 276.62,830.63 280.00,833.00 C283.38,835.37 285.57,836.97 287.90,840.20 C290.23,843.43 292.13,848.33 294.00,852.40 C295.87,856.47 299.10,861.22 299.10,864.60 C299.10,867.98 297.22,869.65 294.00,872.70 C290.78,875.75 285.22,879.68 279.80,882.90 C274.38,886.12 268.28,888.62 261.50,892.00 C254.72,895.38 246.55,899.65 239.10,903.20 C231.65,906.75 224.25,910.60 216.80,913.30 C209.35,916.00 200.53,917.25 194.40,919.40 C188.27,921.55 185.17,923.95 180.00,926.20 C174.83,928.45 169.33,930.67 163.40,932.90 C157.47,935.13 150.75,937.05 144.40,939.60 C138.05,942.15 131.67,945.67 125.30,948.20 C118.93,950.73 112.55,952.75 106.20,954.80 C99.85,956.85 93.55,958.75 87.20,960.50 C80.85,962.25 74.45,963.70 68.10,965.30 C61.75,966.90 54.78,968.65 49.10,970.10 C43.42,971.55 36.52,973.35 34.00,974.00" stroke="#00c800" stroke-width="2.0" stroke-dasharray="6.5 7.3"/>
<path d="M255.80,706.50 C256.27,707.95 256.85,712.15 258.60,715.20 C260.35,718.25 262.80,720.98 266.30,724.80 C269.80,728.62 276.12,734.30 279.60,738.10 C283.08,741.90 286.08,744.73 287.20,747.60 C288.32,750.47 287.25,752.75 286.30,755.30 C285.35,757.85 283.57,760.05 281.50,762.90 C279.43,765.75 276.43,768.90 273.90,772.40 C271.37,775.90 268.53,780.40 266.30,783.90 C264.07,787.40 261.62,790.72 260.50,793.40 C259.38,796.08 259.78,797.27 259.60,800.00 C259.42,802.73 258.07,806.13 259.40,809.80 C260.73,813.47 262.83,818.13 267.60,822.00 C272.37,825.87 283.93,830.00 288.00,833.00 C292.07,836.00 291.33,837.78 292.00,840.00 C292.67,842.22 293.02,842.88 292.00,846.30 C290.98,849.72 287.43,855.77 285.90,860.50 C284.37,865.23 283.88,870.90 282.80,874.70 C281.72,878.50 283.02,880.35 279.40,883.30 C275.78,886.25 267.88,889.02 261.10,892.40 C254.32,895.78 246.15,900.05 238.70,903.60 C231.25,907.15 223.85,911.00 216.40,913.70 C208.95,916.40 200.13,917.65 194.00,919.80 C187.87,921.95 184.77,924.35 179.60,926.60 C174.43,928.85 168.93,931.07 163.00,933.30 C157.07,935.53 150.35,937.45 144.00,940.00 C137.65,942.55 131.27,946.07 124.90,948.60 C118.53,951.13 112.15,953.15 105.80,955.20 C99.45,957.25 93.15,959.15 86.80,960.90 C80.45,962.65 74.05,964.10 67.70,965.70 C61.35,967.30 54.32,969.08 48.70,970.50 C43.08,971.92 36.45,973.58 34.00,974.20" stroke="#30d030" stroke-width="0.7" stroke-dasharray="6 8"/>
</g>
<g clip-path="url(#clipc2)">
<path d="M443.00,838.50 C443.83,838.17 445.48,837.43 448.00,836.50 C450.52,835.57 454.62,834.77 458.10,832.90 C461.58,831.03 465.30,826.73 468.90,825.30 C472.50,823.87 475.38,824.12 479.70,824.30 C484.02,824.48 489.40,825.50 494.80,826.40 C500.20,827.30 507.42,828.43 512.10,829.70 C516.78,830.97 518.58,832.47 522.90,834.00 C527.22,835.53 531.88,838.00 538.00,838.90 C544.12,839.80 552.60,839.35 559.60,839.40 C566.60,839.45 572.53,838.25 580.00,839.20 C587.47,840.15 595.93,842.93 604.40,845.10 C612.87,847.27 621.98,850.25 630.80,852.20 C639.62,854.15 649.50,856.47 657.30,856.80 C665.10,857.13 670.15,855.82 677.60,854.20 C685.05,852.58 695.90,848.42 702.00,847.10 C708.10,845.78 709.80,846.23 714.20,846.30 C718.60,846.37 726.03,847.30 728.40,847.50" stroke="#00c800" stroke-width="2.0" stroke-dasharray="6.5 7.3"/>
<path d="M443.00,839.00 C443.83,838.67 445.48,837.92 448.00,837.00 C450.52,836.08 454.62,835.33 458.10,833.50 C461.58,831.67 465.30,827.42 468.90,826.00 C472.50,824.58 475.38,824.83 479.70,825.00 C484.02,825.17 489.92,826.08 494.80,827.00 C499.68,827.92 504.68,829.52 509.00,830.50 C513.32,831.48 515.87,832.87 520.70,832.90 C525.53,832.93 532.23,831.78 538.00,830.70 C543.77,829.62 549.90,826.75 555.30,826.40 C560.70,826.05 566.28,827.35 570.40,828.60 C574.52,829.85 575.68,831.50 580.00,833.90 C584.32,836.30 591.22,839.28 596.30,843.00 C601.38,846.72 603.73,852.63 610.50,856.20 C617.27,859.77 628.43,863.20 636.90,864.40 C645.37,865.60 653.17,864.93 661.30,863.40 C669.43,861.87 677.57,857.98 685.70,855.20 C693.83,852.42 702.98,847.98 710.10,846.70 C717.22,845.42 725.35,847.37 728.40,847.50" stroke="#30d030" stroke-width="0.7" stroke-dasharray="6 8"/>
<path d="M443.00,841.10 C445.50,841.08 452.97,841.02 458.00,841.00 C463.03,840.98 468.50,839.77 473.20,841.00 C477.90,842.23 481.22,845.23 486.20,848.40 C491.18,851.57 497.90,855.70 503.10,860.00 C508.30,864.30 512.65,869.30 517.40,874.20 C522.15,879.10 526.87,885.40 531.60,889.40 C536.33,893.40 541.35,895.25 545.80,898.20 C550.25,901.15 553.55,905.82 558.30,907.10 C563.05,908.38 568.97,905.68 574.30,905.90 C579.63,906.12 585.97,907.97 590.30,908.40 C594.63,908.83 594.57,908.97 600.30,908.50 C606.03,908.03 616.90,905.33 624.70,905.60 C632.50,905.87 640.32,908.60 647.10,910.10 C653.88,911.60 658.97,914.60 665.40,914.60 C671.83,914.60 678.93,912.20 685.70,910.10 C692.47,908.00 698.88,903.63 706.00,902.00 C713.12,900.37 724.67,900.58 728.40,900.30" stroke="#00c800" stroke-width="1.9"/>
<path d="M443.00,841.30 C448.03,841.28 466.00,839.98 473.20,841.20 C480.40,842.42 481.22,845.38 486.20,848.60 C491.18,851.82 498.47,856.60 503.10,860.50 C507.73,864.40 510.43,868.53 514.00,872.00 C517.57,875.47 519.50,877.82 524.50,881.30 C529.50,884.78 538.07,892.45 544.00,892.90 C549.93,893.35 555.35,885.03 560.10,884.00 C564.85,882.97 567.47,884.47 572.50,886.70 C577.53,888.93 584.97,894.00 590.30,897.40 C595.63,900.80 599.43,904.13 604.50,907.10 C609.57,910.07 614.62,912.67 620.70,915.20 C626.78,917.73 633.55,920.95 641.00,922.30 C648.45,923.65 657.95,923.98 665.40,923.30 C672.85,922.62 678.93,920.40 685.70,918.20 C692.47,916.00 698.88,912.20 706.00,910.10 C713.12,908.00 724.67,906.35 728.40,905.60" stroke="#30d030" stroke-width="0.7"/>
<path d="M443.00,844.30 C445.52,845.02 453.07,846.43 458.10,848.60 C463.13,850.77 469.55,854.52 473.20,857.30 C476.85,860.08 477.48,862.78 480.00,865.30 C482.52,867.82 485.33,869.13 488.30,872.40 C491.27,875.67 494.15,880.15 497.80,884.90 C501.45,889.65 506.35,894.97 510.20,900.90 C514.05,906.83 517.03,913.38 520.90,920.50 C524.77,927.62 529.55,937.38 533.40,943.60 C537.25,949.82 540.60,953.35 544.00,957.80 C547.40,962.25 551.13,966.60 553.80,970.30 C556.47,974.00 555.97,976.38 560.00,980.00 C564.03,983.62 571.62,993.15 578.00,992.00 C584.38,990.85 592.88,977.27 598.30,973.10 C603.72,968.93 605.75,969.20 610.50,967.00 C615.25,964.80 621.72,960.75 626.80,959.90 C631.88,959.05 636.27,960.55 641.00,961.90 C645.73,963.25 650.80,966.13 655.20,968.00 C659.60,969.87 663.67,972.42 667.40,973.10 C671.13,973.78 673.20,973.45 677.60,972.10 C682.00,970.75 688.05,967.72 693.80,965.00 C699.55,962.28 706.33,957.83 712.10,955.80 C717.87,953.77 725.68,953.30 728.40,952.80" stroke="#00c800" stroke-width="2.0" stroke-dasharray="6.5 7.3"/>
<path d="M443.00,844.80 C445.52,845.52 453.07,846.93 458.10,849.10 C463.13,851.27 469.55,855.02 473.20,857.80 C476.85,860.58 477.48,863.28 480.00,865.80 C482.52,868.32 485.42,869.63 488.30,872.90 C491.18,876.17 493.73,880.65 497.30,885.40 C500.87,890.15 505.85,895.47 509.70,901.40 C513.55,907.33 516.53,913.88 520.40,921.00 C524.27,928.12 529.13,937.85 532.90,944.10 C536.67,950.35 540.48,955.52 543.00,958.50 C545.52,961.48 546.35,962.70 548.00,962.00 C549.65,961.30 550.60,957.67 552.90,954.30 C555.20,950.93 559.42,943.82 561.80,941.80 C564.18,939.78 564.53,941.00 567.20,942.20 C569.87,943.40 573.95,946.40 577.80,949.00 C581.65,951.60 586.13,955.28 590.30,957.80 C594.47,960.32 598.65,962.32 602.80,964.10 C606.95,965.88 611.50,967.02 615.20,968.50 C618.90,969.98 620.87,971.08 625.00,973.00 C629.13,974.92 633.33,978.17 640.00,980.00 C646.67,981.83 656.67,984.67 665.00,984.00 C673.33,983.33 683.83,978.15 690.00,976.00 C696.17,973.85 697.30,972.77 702.00,971.10 C706.70,969.43 713.80,967.18 718.20,966.00 C722.60,964.82 726.70,964.33 728.40,964.00" stroke="#30d030" stroke-width="0.7" stroke-dasharray="6 8"/>
</g>
<path d="M436.30,840.00 L581.20,778.50" stroke="#111" stroke-width="0.9"/>
<path d="M436.30,840.00 L581.40,940.40" stroke="#111" stroke-width="0.9"/>
<path d="M556.40,790.80 Q582.60,848.20 544.00,912.80" stroke="#000" stroke-width="1.9"/>
<path d="M561.00,793.65 L556.40,790.80 L555.54,796.14" stroke="#000" stroke-width="1.615" stroke-linejoin="miter"/>
<path d="M543.73,907.40 L544.00,912.80 L548.88,910.48" stroke="#000" stroke-width="1.615" stroke-linejoin="miter"/>
<text x="546.40" y="781.50" font-family="Liberation Sans" font-size="13.1" text-anchor="start" fill="#1a1a1a" >56</text>
<text x="561.30" y="777.20" font-family="Liberation Sans" font-size="8.5" text-anchor="start" fill="#1a1a1a" >o</text>
<text class="s" x="21.10" y="8.10" font-family="Liberation Serif" font-size="10.6" text-anchor="end" fill="#1a1a1a" >2</text>
<text class="s" x="21.10" y="76.77" font-family="Liberation Serif" font-size="10.6" text-anchor="end" fill="#1a1a1a" >1.5</text>
<text class="s" x="21.10" y="145.43" font-family="Liberation Serif" font-size="10.6" text-anchor="end" fill="#1a1a1a" >1</text>
<text class="s" x="21.10" y="214.10" font-family="Liberation Serif" font-size="10.6" text-anchor="end" fill="#1a1a1a" >0.5</text>
<text class="s" x="33.50" y="290.00" font-family="Liberation Serif" font-size="10.6" text-anchor="middle" fill="#1a1a1a" >0</text>
<text class="s" x="82.32" y="290.00" font-family="Liberation Serif" font-size="10.6" text-anchor="middle" fill="#1a1a1a" >0.1</text>
<text class="s" x="131.13" y="290.00" font-family="Liberation Serif" font-size="10.6" text-anchor="middle" fill="#1a1a1a" >0.2</text>
<text class="s" x="179.95" y="290.00" font-family="Liberation Serif" font-size="10.6" text-anchor="middle" fill="#1a1a1a" >0.3</text>
<text class="s" x="228.77" y="290.00" font-family="Liberation Serif" font-size="10.6" text-anchor="middle" fill="#1a1a1a" >0.4</text>
<text class="s" x="277.58" y="290.00" font-family="Liberation Serif" font-size="10.6" text-anchor="middle" fill="#1a1a1a" >0.5</text>
<text class="s" x="326.40" y="290.00" font-family="Liberation Serif" font-size="10.6" text-anchor="middle" fill="#1a1a1a" >0.6</text>
<rect x="33.5" y="4.5" width="292.90" height="267.80" fill="none" stroke="#7d7d7d" stroke-width="1"/>
<line x1="26.20" y1="4.50" x2="33.5" y2="4.50" stroke="#7d7d7d" stroke-width="1"/>
<line x1="29.20" y1="18.50" x2="33.5" y2="18.50" stroke="#7d7d7d" stroke-width="1"/>
<line x1="29.20" y1="31.50" x2="33.5" y2="31.50" stroke="#7d7d7d" stroke-width="1"/>
<line x1="29.20" y1="45.50" x2="33.5" y2="45.50" stroke="#7d7d7d" stroke-width="1"/>
<line x1="29.20" y1="59.50" x2="33.5" y2="59.50" stroke="#7d7d7d" stroke-width="1"/>
<line x1="26.20" y1="73.50" x2="33.5" y2="73.50" stroke="#7d7d7d" stroke-width="1"/>
<line x1="29.20" y1="86.50" x2="33.5" y2="86.50" stroke="#7d7d7d" stroke-width="1"/>
<line x1="29.20" y1="100.50" x2="33.5" y2="100.50" stroke="#7d7d7d" stroke-width="1"/>
<line x1="29.20" y1="114.50" x2="33.5" y2="114.50" stroke="#7d7d7d" stroke-width="1"/>
<line x1="29.20" y1="128.50" x2="33.5" y2="128.50" stroke="#7d7d7d" stroke-width="1"/>
<line x1="26.20" y1="141.50" x2="33.5" y2="141.50" stroke="#7d7d7d" stroke-width="1"/>
<line x1="29.20" y1="155.50" x2="33.5" y2="155.50" stroke="#7d7d7d" stroke-width="1"/>
<line x1="29.20" y1="169.50" x2="33.5" y2="169.50" stroke="#7d7d7d" stroke-width="1"/>
<line x1="29.20" y1="183.50" x2="33.5" y2="183.50" stroke="#7d7d7d" stroke-width="1"/>
<line x1="29.20" y1="196.50" x2="33.5" y2="196.50" stroke="#7d7d7d" stroke-width="1"/>
<line x1="26.20" y1="210.50" x2="33.5" y2="210.50" stroke="#7d7d7d" stroke-width="1"/>
<line x1="29.20" y1="224.50" x2="33.5" y2="224.50" stroke="#7d7d7d" stroke-width="1"/>
<line x1="29.20" y1="237.50" x2="33.5" y2="237.50" stroke="#7d7d7d" stroke-width="1"/>
<line x1="29.20" y1="251.50" x2="33.5" y2="251.50" stroke="#7d7d7d" stroke-width="1"/>
<line x1="29.20" y1="265.50" x2="33.5" y2="265.50" stroke="#7d7d7d" stroke-width="1"/>
<line x1="33.50" y1="272.3" x2="33.50" y2="278.70" stroke="#7d7d7d" stroke-width="1"/>
<line x1="43.50" y1="272.3" x2="43.50" y2="276.50" stroke="#7d7d7d" stroke-width="1"/>
<line x1="53.50" y1="272.3" x2="53.50" y2="276.50" stroke="#7d7d7d" stroke-width="1"/>
<line x1="62.50" y1="272.3" x2="62.50" y2="276.50" stroke="#7d7d7d" stroke-width="1"/>
<line x1="72.50" y1="272.3" x2="72.50" y2="276.50" stroke="#7d7d7d" stroke-width="1"/>
<line x1="82.50" y1="272.3" x2="82.50" y2="278.70" stroke="#7d7d7d" stroke-width="1"/>
<line x1="92.50" y1="272.3" x2="92.50" y2="276.50" stroke="#7d7d7d" stroke-width="1"/>
<line x1="101.50" y1="272.3" x2="101.50" y2="276.50" stroke="#7d7d7d" stroke-width="1"/>
<line x1="111.50" y1="272.3" x2="111.50" y2="276.50" stroke="#7d7d7d" stroke-width="1"/>
<line x1="121.50" y1="272.3" x2="121.50" y2="276.50" stroke="#7d7d7d" stroke-width="1"/>
<line x1="131.50" y1="272.3" x2="131.50" y2="278.70" stroke="#7d7d7d" stroke-width="1"/>
<line x1="140.50" y1="272.3" x2="140.50" y2="276.50" stroke="#7d7d7d" stroke-width="1"/>
<line x1="150.50" y1="272.3" x2="150.50" y2="276.50" stroke="#7d7d7d" stroke-width="1"/>
<line x1="160.50" y1="272.3" x2="160.50" y2="276.50" stroke="#7d7d7d" stroke-width="1"/>
<line x1="170.50" y1="272.3" x2="170.50" y2="276.50" stroke="#7d7d7d" stroke-width="1"/>
<line x1="179.50" y1="272.3" x2="179.50" y2="278.70" stroke="#7d7d7d" stroke-width="1"/>
<line x1="189.50" y1="272.3" x2="189.50" y2="276.50" stroke="#7d7d7d" stroke-width="1"/>
<line x1="199.50" y1="272.3" x2="199.50" y2="276.50" stroke="#7d7d7d" stroke-width="1"/>
<line x1="209.50" y1="272.3" x2="209.50" y2="276.50" stroke="#7d7d7d" stroke-width="1"/>
<line x1="219.50" y1="272.3" x2="219.50" y2="276.50" stroke="#7d7d7d" stroke-width="1"/>
<line x1="228.50" y1="272.3" x2="228.50" y2="278.70" stroke="#7d7d7d" stroke-width="1"/>
<line x1="238.50" y1="272.3" x2="238.50" y2="276.50" stroke="#7d7d7d" stroke-width="1"/>
<line x1="248.50" y1="272.3" x2="248.50" y2="276.50" stroke="#7d7d7d" stroke-width="1"/>
<line x1="258.50" y1="272.3" x2="258.50" y2="276.50" stroke="#7d7d7d" stroke-width="1"/>
<line x1="267.50" y1="272.3" x2="267.50" y2="276.50" stroke="#7d7d7d" stroke-width="1"/>
<line x1="277.50" y1="272.3" x2="277.50" y2="278.70" stroke="#7d7d7d" stroke-width="1"/>
<line x1="287.50" y1="272.3" x2="287.50" y2="276.50" stroke="#7d7d7d" stroke-width="1"/>
<line x1="297.50" y1="272.3" x2="297.50" y2="276.50" stroke="#7d7d7d" stroke-width="1"/>
<line x1="306.50" y1="272.3" x2="306.50" y2="276.50" stroke="#7d7d7d" stroke-width="1"/>
<line x1="316.50" y1="272.3" x2="316.50" y2="276.50" stroke="#7d7d7d" stroke-width="1"/>
<line x1="326.50" y1="272.3" x2="326.50" y2="278.70" stroke="#7d7d7d" stroke-width="1"/>
<text x="0" y="0" font-family="Liberation Serif" font-size="12.6" text-anchor="middle" fill="#1a1a1a" transform="translate(11.2,138.70) rotate(-90)">t (s)</text>
<text x="179.45" y="305.50" font-family="Liberation Serif" font-size="12.6" text-anchor="middle" fill="#1a1a1a">z<tspan font-size="8.5" dy="2.5">c</tspan><tspan dy="-2.5">, z</tspan><tspan font-size="8.5" dy="2.5">c</tspan><tspan dy="-2.5">+σ</tspan><tspan font-size="8.5" dy="2.5">z</tspan><tspan dy="-2.5">, z</tspan><tspan font-size="8.5" dy="2.5">c</tspan><tspan dy="-2.5">-σ</tspan><tspan font-size="8.5" dy="2.5">z</tspan><tspan dy="-2.5"> (m)</tspan></text>
<text class="s" x="21.10" y="368.80" font-family="Liberation Serif" font-size="10.6" text-anchor="end" fill="#1a1a1a" >2</text>
<text class="s" x="21.10" y="437.31" font-family="Liberation Serif" font-size="10.6" text-anchor="end" fill="#1a1a1a" >1.5</text>
<text class="s" x="21.10" y="505.83" font-family="Liberation Serif" font-size="10.6" text-anchor="end" fill="#1a1a1a" >1</text>
<text class="s" x="21.10" y="574.34" font-family="Liberation Serif" font-size="10.6" text-anchor="end" fill="#1a1a1a" >0.5</text>
<text class="s" x="33.50" y="650.10" font-family="Liberation Serif" font-size="10.6" text-anchor="middle" fill="#1a1a1a" >0</text>
<text class="s" x="82.33" y="650.10" font-family="Liberation Serif" font-size="10.6" text-anchor="middle" fill="#1a1a1a" >0.1</text>
<text class="s" x="131.17" y="650.10" font-family="Liberation Serif" font-size="10.6" text-anchor="middle" fill="#1a1a1a" >0.2</text>
<text class="s" x="180.00" y="650.10" font-family="Liberation Serif" font-size="10.6" text-anchor="middle" fill="#1a1a1a" >0.3</text>
<text class="s" x="228.83" y="650.10" font-family="Liberation Serif" font-size="10.6" text-anchor="middle" fill="#1a1a1a" >0.4</text>
<text class="s" x="277.67" y="650.10" font-family="Liberation Serif" font-size="10.6" text-anchor="middle" fill="#1a1a1a" >0.5</text>
<text class="s" x="326.50" y="650.10" font-family="Liberation Serif" font-size="10.6" text-anchor="middle" fill="#1a1a1a" >0.6</text>
<rect x="33.5" y="365.2" width="293.00" height="267.20" fill="none" stroke="#7d7d7d" stroke-width="1"/>
<line x1="26.20" y1="365.50" x2="33.5" y2="365.50" stroke="#7d7d7d" stroke-width="1"/>
<line x1="29.20" y1="378.50" x2="33.5" y2="378.50" stroke="#7d7d7d" stroke-width="1"/>
<line x1="29.20" y1="392.50" x2="33.5" y2="392.50" stroke="#7d7d7d" stroke-width="1"/>
<line x1="29.20" y1="406.50" x2="33.5" y2="406.50" stroke="#7d7d7d" stroke-width="1"/>
<line x1="29.20" y1="420.50" x2="33.5" y2="420.50" stroke="#7d7d7d" stroke-width="1"/>
<line x1="26.20" y1="433.50" x2="33.5" y2="433.50" stroke="#7d7d7d" stroke-width="1"/>
<line x1="29.20" y1="447.50" x2="33.5" y2="447.50" stroke="#7d7d7d" stroke-width="1"/>
<line x1="29.20" y1="461.50" x2="33.5" y2="461.50" stroke="#7d7d7d" stroke-width="1"/>
<line x1="29.20" y1="474.50" x2="33.5" y2="474.50" stroke="#7d7d7d" stroke-width="1"/>
<line x1="29.20" y1="488.50" x2="33.5" y2="488.50" stroke="#7d7d7d" stroke-width="1"/>
<line x1="26.20" y1="502.50" x2="33.5" y2="502.50" stroke="#7d7d7d" stroke-width="1"/>
<line x1="29.20" y1="515.50" x2="33.5" y2="515.50" stroke="#7d7d7d" stroke-width="1"/>
<line x1="29.20" y1="529.50" x2="33.5" y2="529.50" stroke="#7d7d7d" stroke-width="1"/>
<line x1="29.20" y1="543.50" x2="33.5" y2="543.50" stroke="#7d7d7d" stroke-width="1"/>
<line x1="29.20" y1="557.50" x2="33.5" y2="557.50" stroke="#7d7d7d" stroke-width="1"/>
<line x1="26.20" y1="570.50" x2="33.5" y2="570.50" stroke="#7d7d7d" stroke-width="1"/>
<line x1="29.20" y1="584.50" x2="33.5" y2="584.50" stroke="#7d7d7d" stroke-width="1"/>
<line x1="29.20" y1="598.50" x2="33.5" y2="598.50" stroke="#7d7d7d" stroke-width="1"/>
<line x1="29.20" y1="611.50" x2="33.5" y2="611.50" stroke="#7d7d7d" stroke-width="1"/>
<line x1="29.20" y1="625.50" x2="33.5" y2="625.50" stroke="#7d7d7d" stroke-width="1"/>
<line x1="33.50" y1="632.4" x2="33.50" y2="638.80" stroke="#7d7d7d" stroke-width="1"/>
<line x1="43.50" y1="632.4" x2="43.50" y2="636.60" stroke="#7d7d7d" stroke-width="1"/>
<line x1="53.50" y1="632.4" x2="53.50" y2="636.60" stroke="#7d7d7d" stroke-width="1"/>
<line x1="62.50" y1="632.4" x2="62.50" y2="636.60" stroke="#7d7d7d" stroke-width="1"/>
<line x1="72.50" y1="632.4" x2="72.50" y2="636.60" stroke="#7d7d7d" stroke-width="1"/>
<line x1="82.50" y1="632.4" x2="82.50" y2="638.80" stroke="#7d7d7d" stroke-width="1"/>
<line x1="92.50" y1="632.4" x2="92.50" y2="636.60" stroke="#7d7d7d" stroke-width="1"/>
<line x1="101.50" y1="632.4" x2="101.50" y2="636.60" stroke="#7d7d7d" stroke-width="1"/>
<line x1="111.50" y1="632.4" x2="111.50" y2="636.60" stroke="#7d7d7d" stroke-width="1"/>
<line x1="121.50" y1="632.4" x2="121.50" y2="636.60" stroke="#7d7d7d" stroke-width="1"/>
<line x1="131.50" y1="632.4" x2="131.50" y2="638.80" stroke="#7d7d7d" stroke-width="1"/>
<line x1="140.50" y1="632.4" x2="140.50" y2="636.60" stroke="#7d7d7d" stroke-width="1"/>
<line x1="150.50" y1="632.4" x2="150.50" y2="636.60" stroke="#7d7d7d" stroke-width="1"/>
<line x1="160.50" y1="632.4" x2="160.50" y2="636.60" stroke="#7d7d7d" stroke-width="1"/>
<line x1="170.50" y1="632.4" x2="170.50" y2="636.60" stroke="#7d7d7d" stroke-width="1"/>
<line x1="180.50" y1="632.4" x2="180.50" y2="638.80" stroke="#7d7d7d" stroke-width="1"/>
<line x1="189.50" y1="632.4" x2="189.50" y2="636.60" stroke="#7d7d7d" stroke-width="1"/>
<line x1="199.50" y1="632.4" x2="199.50" y2="636.60" stroke="#7d7d7d" stroke-width="1"/>
<line x1="209.50" y1="632.4" x2="209.50" y2="636.60" stroke="#7d7d7d" stroke-width="1"/>
<line x1="219.50" y1="632.4" x2="219.50" y2="636.60" stroke="#7d7d7d" stroke-width="1"/>
<line x1="228.50" y1="632.4" x2="228.50" y2="638.80" stroke="#7d7d7d" stroke-width="1"/>
<line x1="238.50" y1="632.4" x2="238.50" y2="636.60" stroke="#7d7d7d" stroke-width="1"/>
<line x1="248.50" y1="632.4" x2="248.50" y2="636.60" stroke="#7d7d7d" stroke-width="1"/>
<line x1="258.50" y1="632.4" x2="258.50" y2="636.60" stroke="#7d7d7d" stroke-width="1"/>
<line x1="267.50" y1="632.4" x2="267.50" y2="636.60" stroke="#7d7d7d" stroke-width="1"/>
<line x1="277.50" y1="632.4" x2="277.50" y2="638.80" stroke="#7d7d7d" stroke-width="1"/>
<line x1="287.50" y1="632.4" x2="287.50" y2="636.60" stroke="#7d7d7d" stroke-width="1"/>
<line x1="297.50" y1="632.4" x2="297.50" y2="636.60" stroke="#7d7d7d" stroke-width="1"/>
<line x1="306.50" y1="632.4" x2="306.50" y2="636.60" stroke="#7d7d7d" stroke-width="1"/>
<line x1="316.50" y1="632.4" x2="316.50" y2="636.60" stroke="#7d7d7d" stroke-width="1"/>
<line x1="326.50" y1="632.4" x2="326.50" y2="638.80" stroke="#7d7d7d" stroke-width="1"/>
<text x="0" y="0" font-family="Liberation Serif" font-size="12.6" text-anchor="middle" fill="#1a1a1a" transform="translate(11.2,499.10) rotate(-90)">t (s)</text>
<text x="179.50" y="665.60" font-family="Liberation Serif" font-size="12.6" text-anchor="middle" fill="#1a1a1a">z<tspan font-size="8.5" dy="2.5">c</tspan><tspan dy="-2.5">, z</tspan><tspan font-size="8.5" dy="2.5">c</tspan><tspan dy="-2.5">+σ</tspan><tspan font-size="8.5" dy="2.5">z</tspan><tspan dy="-2.5">, z</tspan><tspan font-size="8.5" dy="2.5">c</tspan><tspan dy="-2.5">-σ</tspan><tspan font-size="8.5" dy="2.5">z</tspan><tspan dy="-2.5"> (m)</tspan></text>
<text class="s" x="21.10" y="709.90" font-family="Liberation Serif" font-size="10.6" text-anchor="end" fill="#1a1a1a" >2</text>
<text class="s" x="21.10" y="778.59" font-family="Liberation Serif" font-size="10.6" text-anchor="end" fill="#1a1a1a" >1.5</text>
<text class="s" x="21.10" y="847.28" font-family="Liberation Serif" font-size="10.6" text-anchor="end" fill="#1a1a1a" >1</text>
<text class="s" x="21.10" y="915.98" font-family="Liberation Serif" font-size="10.6" text-anchor="end" fill="#1a1a1a" >0.5</text>
<text class="s" x="33.50" y="991.90" font-family="Liberation Serif" font-size="10.6" text-anchor="middle" fill="#1a1a1a" >0</text>
<text class="s" x="82.33" y="991.90" font-family="Liberation Serif" font-size="10.6" text-anchor="middle" fill="#1a1a1a" >0.1</text>
<text class="s" x="131.17" y="991.90" font-family="Liberation Serif" font-size="10.6" text-anchor="middle" fill="#1a1a1a" >0.2</text>
<text class="s" x="180.00" y="991.90" font-family="Liberation Serif" font-size="10.6" text-anchor="middle" fill="#1a1a1a" >0.3</text>
<text class="s" x="228.83" y="991.90" font-family="Liberation Serif" font-size="10.6" text-anchor="middle" fill="#1a1a1a" >0.4</text>
<text class="s" x="277.67" y="991.90" font-family="Liberation Serif" font-size="10.6" text-anchor="middle" fill="#1a1a1a" >0.5</text>
<text class="s" x="326.50" y="991.90" font-family="Liberation Serif" font-size="10.6" text-anchor="middle" fill="#1a1a1a" >0.6</text>
<rect x="33.5" y="706.3" width="293.00" height="267.90" fill="none" stroke="#7d7d7d" stroke-width="1"/>
<line x1="26.20" y1="706.50" x2="33.5" y2="706.50" stroke="#7d7d7d" stroke-width="1"/>
<line x1="29.20" y1="720.50" x2="33.5" y2="720.50" stroke="#7d7d7d" stroke-width="1"/>
<line x1="29.20" y1="733.50" x2="33.5" y2="733.50" stroke="#7d7d7d" stroke-width="1"/>
<line x1="29.20" y1="747.50" x2="33.5" y2="747.50" stroke="#7d7d7d" stroke-width="1"/>
<line x1="29.20" y1="761.50" x2="33.5" y2="761.50" stroke="#7d7d7d" stroke-width="1"/>
<line x1="26.20" y1="774.50" x2="33.5" y2="774.50" stroke="#7d7d7d" stroke-width="1"/>
<line x1="29.20" y1="788.50" x2="33.5" y2="788.50" stroke="#7d7d7d" stroke-width="1"/>
<line x1="29.20" y1="802.50" x2="33.5" y2="802.50" stroke="#7d7d7d" stroke-width="1"/>
<line x1="29.20" y1="816.50" x2="33.5" y2="816.50" stroke="#7d7d7d" stroke-width="1"/>
<line x1="29.20" y1="829.50" x2="33.5" y2="829.50" stroke="#7d7d7d" stroke-width="1"/>
<line x1="26.20" y1="843.50" x2="33.5" y2="843.50" stroke="#7d7d7d" stroke-width="1"/>
<line x1="29.20" y1="857.50" x2="33.5" y2="857.50" stroke="#7d7d7d" stroke-width="1"/>
<line x1="29.20" y1="871.50" x2="33.5" y2="871.50" stroke="#7d7d7d" stroke-width="1"/>
<line x1="29.20" y1="884.50" x2="33.5" y2="884.50" stroke="#7d7d7d" stroke-width="1"/>
<line x1="29.20" y1="898.50" x2="33.5" y2="898.50" stroke="#7d7d7d" stroke-width="1"/>
<line x1="26.20" y1="912.50" x2="33.5" y2="912.50" stroke="#7d7d7d" stroke-width="1"/>
<line x1="29.20" y1="926.50" x2="33.5" y2="926.50" stroke="#7d7d7d" stroke-width="1"/>
<line x1="29.20" y1="939.50" x2="33.5" y2="939.50" stroke="#7d7d7d" stroke-width="1"/>
<line x1="29.20" y1="953.50" x2="33.5" y2="953.50" stroke="#7d7d7d" stroke-width="1"/>
<line x1="29.20" y1="967.50" x2="33.5" y2="967.50" stroke="#7d7d7d" stroke-width="1"/>
<line x1="33.50" y1="974.2" x2="33.50" y2="980.60" stroke="#7d7d7d" stroke-width="1"/>
<line x1="43.50" y1="974.2" x2="43.50" y2="978.40" stroke="#7d7d7d" stroke-width="1"/>
<line x1="53.50" y1="974.2" x2="53.50" y2="978.40" stroke="#7d7d7d" stroke-width="1"/>
<line x1="62.50" y1="974.2" x2="62.50" y2="978.40" stroke="#7d7d7d" stroke-width="1"/>
<line x1="72.50" y1="974.2" x2="72.50" y2="978.40" stroke="#7d7d7d" stroke-width="1"/>
<line x1="82.50" y1="974.2" x2="82.50" y2="980.60" stroke="#7d7d7d" stroke-width="1"/>
<line x1="92.50" y1="974.2" x2="92.50" y2="978.40" stroke="#7d7d7d" stroke-width="1"/>
<line x1="101.50" y1="974.2" x2="101.50" y2="978.40" stroke="#7d7d7d" stroke-width="1"/>
<line x1="111.50" y1="974.2" x2="111.50" y2="978.40" stroke="#7d7d7d" stroke-width="1"/>
<line x1="121.50" y1="974.2" x2="121.50" y2="978.40" stroke="#7d7d7d" stroke-width="1"/>
<line x1="131.50" y1="974.2" x2="131.50" y2="980.60" stroke="#7d7d7d" stroke-width="1"/>
<line x1="140.50" y1="974.2" x2="140.50" y2="978.40" stroke="#7d7d7d" stroke-width="1"/>
<line x1="150.50" y1="974.2" x2="150.50" y2="978.40" stroke="#7d7d7d" stroke-width="1"/>
<line x1="160.50" y1="974.2" x2="160.50" y2="978.40" stroke="#7d7d7d" stroke-width="1"/>
<line x1="170.50" y1="974.2" x2="170.50" y2="978.40" stroke="#7d7d7d" stroke-width="1"/>
<line x1="180.50" y1="974.2" x2="180.50" y2="980.60" stroke="#7d7d7d" stroke-width="1"/>
<line x1="189.50" y1="974.2" x2="189.50" y2="978.40" stroke="#7d7d7d" stroke-width="1"/>
<line x1="199.50" y1="974.2" x2="199.50" y2="978.40" stroke="#7d7d7d" stroke-width="1"/>
<line x1="209.50" y1="974.2" x2="209.50" y2="978.40" stroke="#7d7d7d" stroke-width="1"/>
<line x1="219.50" y1="974.2" x2="219.50" y2="978.40" stroke="#7d7d7d" stroke-width="1"/>
<line x1="228.50" y1="974.2" x2="228.50" y2="980.60" stroke="#7d7d7d" stroke-width="1"/>
<line x1="238.50" y1="974.2" x2="238.50" y2="978.40" stroke="#7d7d7d" stroke-width="1"/>
<line x1="248.50" y1="974.2" x2="248.50" y2="978.40" stroke="#7d7d7d" stroke-width="1"/>
<line x1="258.50" y1="974.2" x2="258.50" y2="978.40" stroke="#7d7d7d" stroke-width="1"/>
<line x1="267.50" y1="974.2" x2="267.50" y2="978.40" stroke="#7d7d7d" stroke-width="1"/>
<line x1="277.50" y1="974.2" x2="277.50" y2="980.60" stroke="#7d7d7d" stroke-width="1"/>
<line x1="287.50" y1="974.2" x2="287.50" y2="978.40" stroke="#7d7d7d" stroke-width="1"/>
<line x1="297.50" y1="974.2" x2="297.50" y2="978.40" stroke="#7d7d7d" stroke-width="1"/>
<line x1="306.50" y1="974.2" x2="306.50" y2="978.40" stroke="#7d7d7d" stroke-width="1"/>
<line x1="316.50" y1="974.2" x2="316.50" y2="978.40" stroke="#7d7d7d" stroke-width="1"/>
<line x1="326.50" y1="974.2" x2="326.50" y2="980.60" stroke="#7d7d7d" stroke-width="1"/>
<text x="0" y="0" font-family="Liberation Serif" font-size="12.6" text-anchor="middle" fill="#1a1a1a" transform="translate(11.2,840.55) rotate(-90)">t (s)</text>
<text x="179.50" y="1007.40" font-family="Liberation Serif" font-size="12.6" text-anchor="middle" fill="#1a1a1a">z<tspan font-size="8.5" dy="2.5">c</tspan><tspan dy="-2.5">, z</tspan><tspan font-size="8.5" dy="2.5">c</tspan><tspan dy="-2.5">+σ</tspan><tspan font-size="8.5" dy="2.5">z</tspan><tspan dy="-2.5">, z</tspan><tspan font-size="8.5" dy="2.5">c</tspan><tspan dy="-2.5">-σ</tspan><tspan font-size="8.5" dy="2.5">z</tspan><tspan dy="-2.5"> (m)</tspan></text>
<text class="s" x="425.20" y="8.40" font-family="Liberation Serif" font-size="10.6" text-anchor="end" fill="#1a1a1a" >0.3</text>
<text class="s" x="425.20" y="53.00" font-family="Liberation Serif" font-size="10.6" text-anchor="end" fill="#1a1a1a" >0.2</text>
<text class="s" x="425.20" y="97.60" font-family="Liberation Serif" font-size="10.6" text-anchor="end" fill="#1a1a1a" >0.1</text>
<text class="s" x="425.20" y="142.20" font-family="Liberation Serif" font-size="10.6" text-anchor="end" fill="#1a1a1a" >0</text>
<text class="s" x="425.20" y="186.80" font-family="Liberation Serif" font-size="10.6" text-anchor="end" fill="#1a1a1a" >-0.1</text>
<text class="s" x="425.20" y="231.40" font-family="Liberation Serif" font-size="10.6" text-anchor="end" fill="#1a1a1a" >-0.2</text>
<text class="s" x="425.20" y="276.00" font-family="Liberation Serif" font-size="10.6" text-anchor="end" fill="#1a1a1a" >-0.3</text>
<text class="s" x="436.80" y="289.60" font-family="Liberation Serif" font-size="10.6" text-anchor="middle" fill="#1a1a1a" >0</text>
<text class="s" x="509.95" y="289.60" font-family="Liberation Serif" font-size="10.6" text-anchor="middle" fill="#1a1a1a" >0.5</text>
<text class="s" x="583.10" y="289.60" font-family="Liberation Serif" font-size="10.6" text-anchor="middle" fill="#1a1a1a" >1</text>
<text class="s" x="656.25" y="289.60" font-family="Liberation Serif" font-size="10.6" text-anchor="middle" fill="#1a1a1a" >1.5</text>
<text class="s" x="729.40" y="289.60" font-family="Liberation Serif" font-size="10.6" text-anchor="middle" fill="#1a1a1a" >2</text>
<rect x="436.8" y="4.8" width="292.60" height="267.60" fill="none" stroke="#7d7d7d" stroke-width="1"/>
<line x1="430.20" y1="4.50" x2="436.8" y2="4.50" stroke="#7d7d7d" stroke-width="1"/>
<line x1="432.80" y1="13.50" x2="436.8" y2="13.50" stroke="#7d7d7d" stroke-width="1"/>
<line x1="432.80" y1="22.50" x2="436.8" y2="22.50" stroke="#7d7d7d" stroke-width="1"/>
<line x1="432.80" y1="31.50" x2="436.8" y2="31.50" stroke="#7d7d7d" stroke-width="1"/>
<line x1="432.80" y1="40.50" x2="436.8" y2="40.50" stroke="#7d7d7d" stroke-width="1"/>
<line x1="430.20" y1="49.50" x2="436.8" y2="49.50" stroke="#7d7d7d" stroke-width="1"/>
<line x1="432.80" y1="58.50" x2="436.8" y2="58.50" stroke="#7d7d7d" stroke-width="1"/>
<line x1="432.80" y1="67.50" x2="436.8" y2="67.50" stroke="#7d7d7d" stroke-width="1"/>
<line x1="432.80" y1="76.50" x2="436.8" y2="76.50" stroke="#7d7d7d" stroke-width="1"/>
<line x1="432.80" y1="85.50" x2="436.8" y2="85.50" stroke="#7d7d7d" stroke-width="1"/>
<line x1="430.20" y1="93.50" x2="436.8" y2="93.50" stroke="#7d7d7d" stroke-width="1"/>
<line x1="432.80" y1="102.50" x2="436.8" y2="102.50" stroke="#7d7d7d" stroke-width="1"/>
<line x1="432.80" y1="111.50" x2="436.8" y2="111.50" stroke="#7d7d7d" stroke-width="1"/>
<line x1="432.80" y1="120.50" x2="436.8" y2="120.50" stroke="#7d7d7d" stroke-width="1"/>
<line x1="432.80" y1="129.50" x2="436.8" y2="129.50" stroke="#7d7d7d" stroke-width="1"/>
<line x1="430.20" y1="138.50" x2="436.8" y2="138.50" stroke="#7d7d7d" stroke-width="1"/>
<line x1="432.80" y1="147.50" x2="436.8" y2="147.50" stroke="#7d7d7d" stroke-width="1"/>
<line x1="432.80" y1="156.50" x2="436.8" y2="156.50" stroke="#7d7d7d" stroke-width="1"/>
<line x1="432.80" y1="165.50" x2="436.8" y2="165.50" stroke="#7d7d7d" stroke-width="1"/>
<line x1="432.80" y1="174.50" x2="436.8" y2="174.50" stroke="#7d7d7d" stroke-width="1"/>
<line x1="430.20" y1="183.50" x2="436.8" y2="183.50" stroke="#7d7d7d" stroke-width="1"/>
<line x1="432.80" y1="192.50" x2="436.8" y2="192.50" stroke="#7d7d7d" stroke-width="1"/>
<line x1="432.80" y1="201.50" x2="436.8" y2="201.50" stroke="#7d7d7d" stroke-width="1"/>
<line x1="432.80" y1="209.50" x2="436.8" y2="209.50" stroke="#7d7d7d" stroke-width="1"/>
<line x1="432.80" y1="218.50" x2="436.8" y2="218.50" stroke="#7d7d7d" stroke-width="1"/>
<line x1="430.20" y1="227.50" x2="436.8" y2="227.50" stroke="#7d7d7d" stroke-width="1"/>
<line x1="432.80" y1="236.50" x2="436.8" y2="236.50" stroke="#7d7d7d" stroke-width="1"/>
<line x1="432.80" y1="245.50" x2="436.8" y2="245.50" stroke="#7d7d7d" stroke-width="1"/>
<line x1="432.80" y1="254.50" x2="436.8" y2="254.50" stroke="#7d7d7d" stroke-width="1"/>
<line x1="432.80" y1="263.50" x2="436.8" y2="263.50" stroke="#7d7d7d" stroke-width="1"/>
<line x1="430.20" y1="272.50" x2="436.8" y2="272.50" stroke="#7d7d7d" stroke-width="1"/>
<line x1="436.50" y1="272.4" x2="436.50" y2="279.40" stroke="#7d7d7d" stroke-width="1"/>
<line x1="451.50" y1="272.4" x2="451.50" y2="276.60" stroke="#7d7d7d" stroke-width="1"/>
<line x1="466.50" y1="272.4" x2="466.50" y2="276.60" stroke="#7d7d7d" stroke-width="1"/>
<line x1="480.50" y1="272.4" x2="480.50" y2="276.60" stroke="#7d7d7d" stroke-width="1"/>
<line x1="495.50" y1="272.4" x2="495.50" y2="276.60" stroke="#7d7d7d" stroke-width="1"/>
<line x1="509.50" y1="272.4" x2="509.50" y2="279.40" stroke="#7d7d7d" stroke-width="1"/>
<line x1="524.50" y1="272.4" x2="524.50" y2="276.60" stroke="#7d7d7d" stroke-width="1"/>
<line x1="539.50" y1="272.4" x2="539.50" y2="276.60" stroke="#7d7d7d" stroke-width="1"/>
<line x1="553.50" y1="272.4" x2="553.50" y2="276.60" stroke="#7d7d7d" stroke-width="1"/>
<line x1="568.50" y1="272.4" x2="568.50" y2="276.60" stroke="#7d7d7d" stroke-width="1"/>
<line x1="583.50" y1="272.4" x2="583.50" y2="279.40" stroke="#7d7d7d" stroke-width="1"/>
<line x1="597.50" y1="272.4" x2="597.50" y2="276.60" stroke="#7d7d7d" stroke-width="1"/>
<line x1="612.50" y1="272.4" x2="612.50" y2="276.60" stroke="#7d7d7d" stroke-width="1"/>
<line x1="626.50" y1="272.4" x2="626.50" y2="276.60" stroke="#7d7d7d" stroke-width="1"/>
<line x1="641.50" y1="272.4" x2="641.50" y2="276.60" stroke="#7d7d7d" stroke-width="1"/>
<line x1="656.50" y1="272.4" x2="656.50" y2="279.40" stroke="#7d7d7d" stroke-width="1"/>
<line x1="670.50" y1="272.4" x2="670.50" y2="276.60" stroke="#7d7d7d" stroke-width="1"/>
<line x1="685.50" y1="272.4" x2="685.50" y2="276.60" stroke="#7d7d7d" stroke-width="1"/>
<line x1="700.50" y1="272.4" x2="700.50" y2="276.60" stroke="#7d7d7d" stroke-width="1"/>
<line x1="714.50" y1="272.4" x2="714.50" y2="276.60" stroke="#7d7d7d" stroke-width="1"/>
<line x1="729.50" y1="272.4" x2="729.50" y2="279.40" stroke="#7d7d7d" stroke-width="1"/>
<text x="0" y="0" font-family="Liberation Serif" font-size="12.6" text-anchor="middle" fill="#1a1a1a" transform="translate(399.00,139.10) rotate(-90)">y<tspan font-size="8.5" dy="2.5">c</tspan><tspan dy="-2.5">, y</tspan><tspan font-size="8.5" dy="2.5">c</tspan><tspan dy="-2.5">+σ</tspan><tspan font-size="8.5" dy="2.5">y</tspan><tspan dy="-2.5">, y</tspan><tspan font-size="8.5" dy="2.5">c</tspan><tspan dy="-2.5">-σ</tspan><tspan font-size="8.5" dy="2.5">y</tspan><tspan dy="-2.5"> (m)</tspan></text>
<text x="583.10" y="301.70" font-family="Liberation Serif" font-size="12.6" text-anchor="middle" fill="#1a1a1a">t (s)</text>
<text class="s" x="424.00" y="368.80" font-family="Liberation Serif" font-size="10.6" text-anchor="end" fill="#1a1a1a" >0.3</text>
<text class="s" x="424.00" y="413.37" font-family="Liberation Serif" font-size="10.6" text-anchor="end" fill="#1a1a1a" >0.2</text>
<text class="s" x="424.00" y="457.93" font-family="Liberation Serif" font-size="10.6" text-anchor="end" fill="#1a1a1a" >0.1</text>
<text class="s" x="424.00" y="502.50" font-family="Liberation Serif" font-size="10.6" text-anchor="end" fill="#1a1a1a" >0</text>
<text class="s" x="424.00" y="547.07" font-family="Liberation Serif" font-size="10.6" text-anchor="end" fill="#1a1a1a" >-0.1</text>
<text class="s" x="424.00" y="591.63" font-family="Liberation Serif" font-size="10.6" text-anchor="end" fill="#1a1a1a" >-0.2</text>
<text class="s" x="424.00" y="636.20" font-family="Liberation Serif" font-size="10.6" text-anchor="end" fill="#1a1a1a" >-0.3</text>
<text class="s" x="435.60" y="649.80" font-family="Liberation Serif" font-size="10.6" text-anchor="middle" fill="#1a1a1a" >0</text>
<text class="s" x="508.80" y="649.80" font-family="Liberation Serif" font-size="10.6" text-anchor="middle" fill="#1a1a1a" >0.5</text>
<text class="s" x="582.00" y="649.80" font-family="Liberation Serif" font-size="10.6" text-anchor="middle" fill="#1a1a1a" >1</text>
<text class="s" x="655.20" y="649.80" font-family="Liberation Serif" font-size="10.6" text-anchor="middle" fill="#1a1a1a" >1.5</text>
<text class="s" x="728.40" y="649.80" font-family="Liberation Serif" font-size="10.6" text-anchor="middle" fill="#1a1a1a" >2</text>
<rect x="435.6" y="365.2" width="292.80" height="267.40" fill="none" stroke="#7d7d7d" stroke-width="1"/>
<line x1="429.00" y1="365.50" x2="435.6" y2="365.50" stroke="#7d7d7d" stroke-width="1"/>
<line x1="431.60" y1="374.50" x2="435.6" y2="374.50" stroke="#7d7d7d" stroke-width="1"/>
<line x1="431.60" y1="383.50" x2="435.6" y2="383.50" stroke="#7d7d7d" stroke-width="1"/>
<line x1="431.60" y1="391.50" x2="435.6" y2="391.50" stroke="#7d7d7d" stroke-width="1"/>
<line x1="431.60" y1="400.50" x2="435.6" y2="400.50" stroke="#7d7d7d" stroke-width="1"/>
<line x1="429.00" y1="409.50" x2="435.6" y2="409.50" stroke="#7d7d7d" stroke-width="1"/>
<line x1="431.60" y1="418.50" x2="435.6" y2="418.50" stroke="#7d7d7d" stroke-width="1"/>
<line x1="431.60" y1="427.50" x2="435.6" y2="427.50" stroke="#7d7d7d" stroke-width="1"/>
<line x1="431.60" y1="436.50" x2="435.6" y2="436.50" stroke="#7d7d7d" stroke-width="1"/>
<line x1="431.60" y1="445.50" x2="435.6" y2="445.50" stroke="#7d7d7d" stroke-width="1"/>
<line x1="429.00" y1="454.50" x2="435.6" y2="454.50" stroke="#7d7d7d" stroke-width="1"/>
<line x1="431.60" y1="463.50" x2="435.6" y2="463.50" stroke="#7d7d7d" stroke-width="1"/>
<line x1="431.60" y1="472.50" x2="435.6" y2="472.50" stroke="#7d7d7d" stroke-width="1"/>
<line x1="431.60" y1="481.50" x2="435.6" y2="481.50" stroke="#7d7d7d" stroke-width="1"/>
<line x1="431.60" y1="489.50" x2="435.6" y2="489.50" stroke="#7d7d7d" stroke-width="1"/>
<line x1="429.00" y1="498.50" x2="435.6" y2="498.50" stroke="#7d7d7d" stroke-width="1"/>
<line x1="431.60" y1="507.50" x2="435.6" y2="507.50" stroke="#7d7d7d" stroke-width="1"/>
<line x1="431.60" y1="516.50" x2="435.6" y2="516.50" stroke="#7d7d7d" stroke-width="1"/>
<line x1="431.60" y1="525.50" x2="435.6" y2="525.50" stroke="#7d7d7d" stroke-width="1"/>
<line x1="431.60" y1="534.50" x2="435.6" y2="534.50" stroke="#7d7d7d" stroke-width="1"/>
<line x1="429.00" y1="543.50" x2="435.6" y2="543.50" stroke="#7d7d7d" stroke-width="1"/>
<line x1="431.60" y1="552.50" x2="435.6" y2="552.50" stroke="#7d7d7d" stroke-width="1"/>
<line x1="431.60" y1="561.50" x2="435.6" y2="561.50" stroke="#7d7d7d" stroke-width="1"/>
<line x1="431.60" y1="570.50" x2="435.6" y2="570.50" stroke="#7d7d7d" stroke-width="1"/>
<line x1="431.60" y1="579.50" x2="435.6" y2="579.50" stroke="#7d7d7d" stroke-width="1"/>
<line x1="429.00" y1="588.50" x2="435.6" y2="588.50" stroke="#7d7d7d" stroke-width="1"/>
<line x1="431.60" y1="596.50" x2="435.6" y2="596.50" stroke="#7d7d7d" stroke-width="1"/>
<line x1="431.60" y1="605.50" x2="435.6" y2="605.50" stroke="#7d7d7d" stroke-width="1"/>
<line x1="431.60" y1="614.50" x2="435.6" y2="614.50" stroke="#7d7d7d" stroke-width="1"/>
<line x1="431.60" y1="623.50" x2="435.6" y2="623.50" stroke="#7d7d7d" stroke-width="1"/>
<line x1="429.00" y1="632.50" x2="435.6" y2="632.50" stroke="#7d7d7d" stroke-width="1"/>
<line x1="435.50" y1="632.6" x2="435.50" y2="639.60" stroke="#7d7d7d" stroke-width="1"/>
<line x1="450.50" y1="632.6" x2="450.50" y2="636.80" stroke="#7d7d7d" stroke-width="1"/>
<line x1="464.50" y1="632.6" x2="464.50" y2="636.80" stroke="#7d7d7d" stroke-width="1"/>
<line x1="479.50" y1="632.6" x2="479.50" y2="636.80" stroke="#7d7d7d" stroke-width="1"/>
<line x1="494.50" y1="632.6" x2="494.50" y2="636.80" stroke="#7d7d7d" stroke-width="1"/>
<line x1="508.50" y1="632.6" x2="508.50" y2="639.60" stroke="#7d7d7d" stroke-width="1"/>
<line x1="523.50" y1="632.6" x2="523.50" y2="636.80" stroke="#7d7d7d" stroke-width="1"/>
<line x1="538.50" y1="632.6" x2="538.50" y2="636.80" stroke="#7d7d7d" stroke-width="1"/>
<line x1="552.50" y1="632.6" x2="552.50" y2="636.80" stroke="#7d7d7d" stroke-width="1"/>
<line x1="567.50" y1="632.6" x2="567.50" y2="636.80" stroke="#7d7d7d" stroke-width="1"/>
<line x1="582.50" y1="632.6" x2="582.50" y2="639.60" stroke="#7d7d7d" stroke-width="1"/>
<line x1="596.50" y1="632.6" x2="596.50" y2="636.80" stroke="#7d7d7d" stroke-width="1"/>
<line x1="611.50" y1="632.6" x2="611.50" y2="636.80" stroke="#7d7d7d" stroke-width="1"/>
<line x1="625.50" y1="632.6" x2="625.50" y2="636.80" stroke="#7d7d7d" stroke-width="1"/>
<line x1="640.50" y1="632.6" x2="640.50" y2="636.80" stroke="#7d7d7d" stroke-width="1"/>
<line x1="655.50" y1="632.6" x2="655.50" y2="639.60" stroke="#7d7d7d" stroke-width="1"/>
<line x1="669.50" y1="632.6" x2="669.50" y2="636.80" stroke="#7d7d7d" stroke-width="1"/>
<line x1="684.50" y1="632.6" x2="684.50" y2="636.80" stroke="#7d7d7d" stroke-width="1"/>
<line x1="699.50" y1="632.6" x2="699.50" y2="636.80" stroke="#7d7d7d" stroke-width="1"/>
<line x1="713.50" y1="632.6" x2="713.50" y2="636.80" stroke="#7d7d7d" stroke-width="1"/>
<line x1="728.50" y1="632.6" x2="728.50" y2="639.60" stroke="#7d7d7d" stroke-width="1"/>
<text x="0" y="0" font-family="Liberation Serif" font-size="12.6" text-anchor="middle" fill="#1a1a1a" transform="translate(397.80,499.40) rotate(-90)">y<tspan font-size="8.5" dy="2.5">c</tspan><tspan dy="-2.5">, y</tspan><tspan font-size="8.5" dy="2.5">c</tspan><tspan dy="-2.5">+σ</tspan><tspan font-size="8.5" dy="2.5">y</tspan><tspan dy="-2.5">, y</tspan><tspan font-size="8.5" dy="2.5">c</tspan><tspan dy="-2.5">-σ</tspan><tspan font-size="8.5" dy="2.5">y</tspan><tspan dy="-2.5"> (m)</tspan></text>
<text x="582.00" y="661.90" font-family="Liberation Serif" font-size="12.6" text-anchor="middle" fill="#1a1a1a">t (s)</text>
<text class="s" x="424.50" y="709.90" font-family="Liberation Serif" font-size="10.6" text-anchor="end" fill="#1a1a1a" >0.3</text>
<text class="s" x="424.50" y="754.55" font-family="Liberation Serif" font-size="10.6" text-anchor="end" fill="#1a1a1a" >0.2</text>
<text class="s" x="424.50" y="799.20" font-family="Liberation Serif" font-size="10.6" text-anchor="end" fill="#1a1a1a" >0.1</text>
<text class="s" x="424.50" y="843.85" font-family="Liberation Serif" font-size="10.6" text-anchor="end" fill="#1a1a1a" >0</text>
<text class="s" x="424.50" y="888.50" font-family="Liberation Serif" font-size="10.6" text-anchor="end" fill="#1a1a1a" >-0.1</text>
<text class="s" x="424.50" y="933.15" font-family="Liberation Serif" font-size="10.6" text-anchor="end" fill="#1a1a1a" >-0.2</text>
<text class="s" x="424.50" y="977.80" font-family="Liberation Serif" font-size="10.6" text-anchor="end" fill="#1a1a1a" >-0.3</text>
<text class="s" x="436.10" y="991.40" font-family="Liberation Serif" font-size="10.6" text-anchor="middle" fill="#1a1a1a" >0</text>
<text class="s" x="509.23" y="991.40" font-family="Liberation Serif" font-size="10.6" text-anchor="middle" fill="#1a1a1a" >0.5</text>
<text class="s" x="582.35" y="991.40" font-family="Liberation Serif" font-size="10.6" text-anchor="middle" fill="#1a1a1a" >1</text>
<text class="s" x="655.48" y="991.40" font-family="Liberation Serif" font-size="10.6" text-anchor="middle" fill="#1a1a1a" >1.5</text>
<text class="s" x="728.60" y="991.40" font-family="Liberation Serif" font-size="10.6" text-anchor="middle" fill="#1a1a1a" >2</text>
<rect x="436.1" y="706.3" width="292.50" height="267.90" fill="none" stroke="#7d7d7d" stroke-width="1"/>
<line x1="429.50" y1="706.50" x2="436.1" y2="706.50" stroke="#7d7d7d" stroke-width="1"/>
<line x1="432.10" y1="715.50" x2="436.1" y2="715.50" stroke="#7d7d7d" stroke-width="1"/>
<line x1="432.10" y1="724.50" x2="436.1" y2="724.50" stroke="#7d7d7d" stroke-width="1"/>
<line x1="432.10" y1="733.50" x2="436.1" y2="733.50" stroke="#7d7d7d" stroke-width="1"/>
<line x1="432.10" y1="742.50" x2="436.1" y2="742.50" stroke="#7d7d7d" stroke-width="1"/>
<line x1="429.50" y1="750.50" x2="436.1" y2="750.50" stroke="#7d7d7d" stroke-width="1"/>
<line x1="432.10" y1="759.50" x2="436.1" y2="759.50" stroke="#7d7d7d" stroke-width="1"/>
<line x1="432.10" y1="768.50" x2="436.1" y2="768.50" stroke="#7d7d7d" stroke-width="1"/>
<line x1="432.10" y1="777.50" x2="436.1" y2="777.50" stroke="#7d7d7d" stroke-width="1"/>
<line x1="432.10" y1="786.50" x2="436.1" y2="786.50" stroke="#7d7d7d" stroke-width="1"/>
<line x1="429.50" y1="795.50" x2="436.1" y2="795.50" stroke="#7d7d7d" stroke-width="1"/>
<line x1="432.10" y1="804.50" x2="436.1" y2="804.50" stroke="#7d7d7d" stroke-width="1"/>
<line x1="432.10" y1="813.50" x2="436.1" y2="813.50" stroke="#7d7d7d" stroke-width="1"/>
<line x1="432.10" y1="822.50" x2="436.1" y2="822.50" stroke="#7d7d7d" stroke-width="1"/>
<line x1="432.10" y1="831.50" x2="436.1" y2="831.50" stroke="#7d7d7d" stroke-width="1"/>
<line x1="429.50" y1="840.50" x2="436.1" y2="840.50" stroke="#7d7d7d" stroke-width="1"/>
<line x1="432.10" y1="849.50" x2="436.1" y2="849.50" stroke="#7d7d7d" stroke-width="1"/>
<line x1="432.10" y1="858.50" x2="436.1" y2="858.50" stroke="#7d7d7d" stroke-width="1"/>
<line x1="432.10" y1="867.50" x2="436.1" y2="867.50" stroke="#7d7d7d" stroke-width="1"/>
<line x1="432.10" y1="875.50" x2="436.1" y2="875.50" stroke="#7d7d7d" stroke-width="1"/>
<line x1="429.50" y1="884.50" x2="436.1" y2="884.50" stroke="#7d7d7d" stroke-width="1"/>
<line x1="432.10" y1="893.50" x2="436.1" y2="893.50" stroke="#7d7d7d" stroke-width="1"/>
<line x1="432.10" y1="902.50" x2="436.1" y2="902.50" stroke="#7d7d7d" stroke-width="1"/>
<line x1="432.10" y1="911.50" x2="436.1" y2="911.50" stroke="#7d7d7d" stroke-width="1"/>
<line x1="432.10" y1="920.50" x2="436.1" y2="920.50" stroke="#7d7d7d" stroke-width="1"/>
<line x1="429.50" y1="929.50" x2="436.1" y2="929.50" stroke="#7d7d7d" stroke-width="1"/>
<line x1="432.10" y1="938.50" x2="436.1" y2="938.50" stroke="#7d7d7d" stroke-width="1"/>
<line x1="432.10" y1="947.50" x2="436.1" y2="947.50" stroke="#7d7d7d" stroke-width="1"/>
<line x1="432.10" y1="956.50" x2="436.1" y2="956.50" stroke="#7d7d7d" stroke-width="1"/>
<line x1="432.10" y1="965.50" x2="436.1" y2="965.50" stroke="#7d7d7d" stroke-width="1"/>
<line x1="429.50" y1="974.50" x2="436.1" y2="974.50" stroke="#7d7d7d" stroke-width="1"/>
<line x1="436.50" y1="974.2" x2="436.50" y2="981.20" stroke="#7d7d7d" stroke-width="1"/>
<line x1="450.50" y1="974.2" x2="450.50" y2="978.40" stroke="#7d7d7d" stroke-width="1"/>
<line x1="465.50" y1="974.2" x2="465.50" y2="978.40" stroke="#7d7d7d" stroke-width="1"/>
<line x1="479.50" y1="974.2" x2="479.50" y2="978.40" stroke="#7d7d7d" stroke-width="1"/>
<line x1="494.50" y1="974.2" x2="494.50" y2="978.40" stroke="#7d7d7d" stroke-width="1"/>
<line x1="509.50" y1="974.2" x2="509.50" y2="981.20" stroke="#7d7d7d" stroke-width="1"/>
<line x1="523.50" y1="974.2" x2="523.50" y2="978.40" stroke="#7d7d7d" stroke-width="1"/>
<line x1="538.50" y1="974.2" x2="538.50" y2="978.40" stroke="#7d7d7d" stroke-width="1"/>
<line x1="553.50" y1="974.2" x2="553.50" y2="978.40" stroke="#7d7d7d" stroke-width="1"/>
<line x1="567.50" y1="974.2" x2="567.50" y2="978.40" stroke="#7d7d7d" stroke-width="1"/>
<line x1="582.50" y1="974.2" x2="582.50" y2="981.20" stroke="#7d7d7d" stroke-width="1"/>
<line x1="596.50" y1="974.2" x2="596.50" y2="978.40" stroke="#7d7d7d" stroke-width="1"/>
<line x1="611.50" y1="974.2" x2="611.50" y2="978.40" stroke="#7d7d7d" stroke-width="1"/>
<line x1="626.50" y1="974.2" x2="626.50" y2="978.40" stroke="#7d7d7d" stroke-width="1"/>
<line x1="640.50" y1="974.2" x2="640.50" y2="978.40" stroke="#7d7d7d" stroke-width="1"/>
<line x1="655.50" y1="974.2" x2="655.50" y2="981.20" stroke="#7d7d7d" stroke-width="1"/>
<line x1="670.50" y1="974.2" x2="670.50" y2="978.40" stroke="#7d7d7d" stroke-width="1"/>
<line x1="684.50" y1="974.2" x2="684.50" y2="978.40" stroke="#7d7d7d" stroke-width="1"/>
<line x1="699.50" y1="974.2" x2="699.50" y2="978.40" stroke="#7d7d7d" stroke-width="1"/>
<line x1="713.50" y1="974.2" x2="713.50" y2="978.40" stroke="#7d7d7d" stroke-width="1"/>
<line x1="728.50" y1="974.2" x2="728.50" y2="981.20" stroke="#7d7d7d" stroke-width="1"/>
<text x="0" y="0" font-family="Liberation Serif" font-size="12.6" text-anchor="middle" fill="#1a1a1a" transform="translate(398.30,840.75) rotate(-90)">y<tspan font-size="8.5" dy="2.5">c</tspan><tspan dy="-2.5">, y</tspan><tspan font-size="8.5" dy="2.5">c</tspan><tspan dy="-2.5">+σ</tspan><tspan font-size="8.5" dy="2.5">y</tspan><tspan dy="-2.5">, y</tspan><tspan font-size="8.5" dy="2.5">c</tspan><tspan dy="-2.5">-σ</tspan><tspan font-size="8.5" dy="2.5">y</tspan><tspan dy="-2.5"> (m)</tspan></text>
<text x="582.35" y="1003.50" font-family="Liberation Serif" font-size="12.6" text-anchor="middle" fill="#1a1a1a">t (s)</text>
<text x="334.2" y="23.4" font-family="Liberation Sans" font-size="22" fill="#111" textLength="46.0" lengthAdjust="spacingAndGlyphs">(a-1)</text>
<text x="734.8" y="23.2" font-family="Liberation Sans" font-size="22" fill="#111" textLength="46.0" lengthAdjust="spacingAndGlyphs">(a-2)</text>
<text x="337.2" y="385.6" font-family="Liberation Sans" font-size="22" fill="#111" textLength="47.6" lengthAdjust="spacingAndGlyphs">(b-1)</text>
<text x="738.4" y="385.5" font-family="Liberation Sans" font-size="22" fill="#111" textLength="47.0" lengthAdjust="spacingAndGlyphs">(b-2)</text>
<text x="337.2" y="724.7" font-family="Liberation Sans" font-size="22" fill="#111" textLength="44.8" lengthAdjust="spacingAndGlyphs">(c-1)</text>
<text x="738.4" y="724.5" font-family="Liberation Sans" font-size="22" fill="#111" textLength="44.6" lengthAdjust="spacingAndGlyphs">(c-2)</text>
</svg>
</body></html>
